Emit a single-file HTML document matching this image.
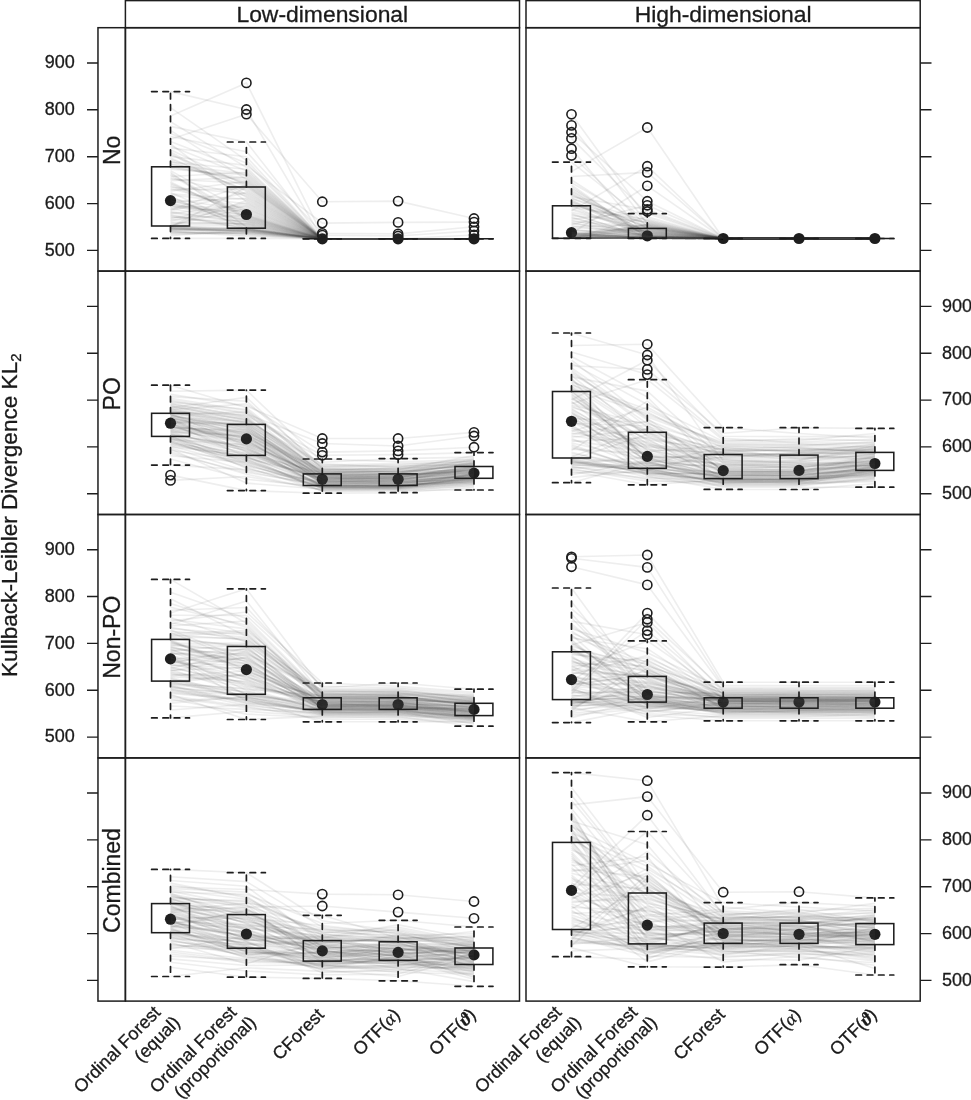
<!DOCTYPE html><html><head><meta charset="utf-8"><style>html,body{margin:0;padding:0;background:#fff;}svg{display:block;will-change:transform;}text{font-family:"Liberation Sans",sans-serif;fill:#1a1a1a;stroke:#1a1a1a;stroke-width:0.3px;}</style></head><body><svg width="971" height="1100" viewBox="0 0 971 1100"><rect width="971" height="1100" fill="#fff"/><circle cx="170.5" cy="200.6" r="5.6" fill="#1e1e1e"/><circle cx="246.4" cy="214.5" r="5.6" fill="#1e1e1e"/><circle cx="322.3" cy="238.8" r="5.6" fill="#1e1e1e"/><circle cx="398.1" cy="238.8" r="5.6" fill="#1e1e1e"/><circle cx="474" cy="238.8" r="5.6" fill="#1e1e1e"/><circle cx="571.5" cy="232.7" r="5.6" fill="#1e1e1e"/><circle cx="647.3" cy="235.8" r="5.6" fill="#1e1e1e"/><circle cx="723.2" cy="238.5" r="5.6" fill="#1e1e1e"/><circle cx="799" cy="238.5" r="5.6" fill="#1e1e1e"/><circle cx="874.9" cy="238.5" r="5.6" fill="#1e1e1e"/><circle cx="170.5" cy="423.2" r="5.6" fill="#1e1e1e"/><circle cx="246.4" cy="438.9" r="5.6" fill="#1e1e1e"/><circle cx="322.3" cy="479.3" r="5.6" fill="#1e1e1e"/><circle cx="398.1" cy="479.3" r="5.6" fill="#1e1e1e"/><circle cx="474" cy="473.1" r="5.6" fill="#1e1e1e"/><circle cx="571.5" cy="421.3" r="5.6" fill="#1e1e1e"/><circle cx="647.3" cy="456.4" r="5.6" fill="#1e1e1e"/><circle cx="723.2" cy="470.6" r="5.6" fill="#1e1e1e"/><circle cx="799" cy="470.4" r="5.6" fill="#1e1e1e"/><circle cx="874.9" cy="463.5" r="5.6" fill="#1e1e1e"/><circle cx="170.5" cy="658.9" r="5.6" fill="#1e1e1e"/><circle cx="246.4" cy="669.6" r="5.6" fill="#1e1e1e"/><circle cx="322.3" cy="704.5" r="5.6" fill="#1e1e1e"/><circle cx="398.1" cy="704.5" r="5.6" fill="#1e1e1e"/><circle cx="474" cy="709.4" r="5.6" fill="#1e1e1e"/><circle cx="571.5" cy="679.6" r="5.6" fill="#1e1e1e"/><circle cx="647.3" cy="694.5" r="5.6" fill="#1e1e1e"/><circle cx="723.2" cy="702" r="5.6" fill="#1e1e1e"/><circle cx="799" cy="702" r="5.6" fill="#1e1e1e"/><circle cx="874.9" cy="702" r="5.6" fill="#1e1e1e"/><circle cx="170.5" cy="919.2" r="5.6" fill="#1e1e1e"/><circle cx="246.4" cy="934" r="5.6" fill="#1e1e1e"/><circle cx="322.3" cy="950.9" r="5.6" fill="#1e1e1e"/><circle cx="398.1" cy="952.4" r="5.6" fill="#1e1e1e"/><circle cx="474" cy="954.9" r="5.6" fill="#1e1e1e"/><circle cx="571.5" cy="890.4" r="5.6" fill="#1e1e1e"/><circle cx="647.3" cy="925.1" r="5.6" fill="#1e1e1e"/><circle cx="723.2" cy="933.5" r="5.6" fill="#1e1e1e"/><circle cx="799" cy="934.3" r="5.6" fill="#1e1e1e"/><circle cx="874.9" cy="934.3" r="5.6" fill="#1e1e1e"/><g fill="none" stroke="#404040" stroke-opacity="0.09" stroke-width="1.6" stroke-linejoin="round"><path d="M170.5,188.6 L246.4,209.2 L322.3,238.8 L398.1,238.8 L474,238.8"/><path d="M170.5,170.6 L246.4,212.4 L322.3,238.8 L398.1,238.8 L474,238.8"/><path d="M170.5,207.7 L246.4,211.3 L322.3,238.8 L398.1,238.8 L474,238.8"/><path d="M170.5,227 L246.4,187.3 L322.3,238.8 L398.1,238.8 L474,238.8"/><path d="M170.5,214.6 L246.4,228.3 L322.3,238.8 L398.1,238.8 L474,238.8"/><path d="M170.5,227.7 L246.4,230.7 L322.3,238.8 L398.1,238.8 L474,238.8"/><path d="M170.5,187.3 L246.4,193.6 L322.3,238.8 L398.1,238.8 L474,238.8"/><path d="M170.5,126.4 L246.4,142 L322.3,238.8 L398.1,238.8 L474,238.8"/><path d="M170.5,219.8 L246.4,220.9 L322.3,238.8 L398.1,238.8 L474,238.8"/><path d="M170.5,224.2 L246.4,224.3 L322.3,238.8 L398.1,238.8 L474,238.8"/><path d="M170.5,164.9 L246.4,173.6 L322.3,238.8 L398.1,238.8 L474,238.8"/><path d="M170.5,166.2 L246.4,180.4 L322.3,238.8 L398.1,238.8 L474,238.8"/><path d="M170.5,182 L246.4,218.2 L322.3,238.8 L398.1,238.8 L474,238.8"/><path d="M170.5,227.2 L246.4,228.9 L322.3,238.8 L398.1,238.8 L474,238.8"/><path d="M170.5,193.7 L246.4,199.4 L322.3,238.8 L398.1,238.8 L474,238.8"/><path d="M170.5,151.6 L246.4,194.8 L322.3,238.8 L398.1,238.8 L474,238.8"/><path d="M170.5,230.6 L246.4,229.9 L322.3,238.8 L398.1,238.8 L474,238.8"/><path d="M170.5,215.6 L246.4,228.7 L322.3,238.8 L398.1,238.8 L474,238.8"/><path d="M170.5,233.4 L246.4,231.9 L322.3,238.8 L398.1,238.8 L474,238.8"/><path d="M170.5,229.4 L246.4,229.7 L322.3,238.8 L398.1,238.8 L474,238.8"/><path d="M170.5,232.7 L246.4,233.1 L322.3,238.8 L398.1,238.8 L474,238.8"/><path d="M170.5,205.8 L246.4,219.8 L322.3,238.8 L398.1,238.8 L474,238.8"/><path d="M170.5,229.1 L246.4,230.9 L322.3,238.8 L398.1,238.8 L474,238.8"/><path d="M170.5,172.1 L246.4,226.8 L322.3,238.8 L398.1,238.8 L474,238.8"/><path d="M170.5,175 L246.4,218.7 L322.3,238.8 L398.1,238.8 L474,238.8"/><path d="M170.5,202 L246.4,198.3 L322.3,238.8 L398.1,238.8 L474,238.8"/><path d="M170.5,238.4 L246.4,238.4 L322.3,238.8 L398.1,238.8 L474,238.8"/><path d="M170.5,220.9 L246.4,206 L322.3,238.8 L398.1,238.8 L474,238.8"/><path d="M170.5,196.2 L246.4,229.1 L322.3,238.8 L398.1,238.8 L474,238.8"/><path d="M170.5,179.2 L246.4,183.1 L322.3,238.8 L398.1,238.8 L474,238.8"/><path d="M170.5,231 L246.4,235.1 L322.3,238.8 L398.1,238.8 L474,238.8"/><path d="M170.5,218.7 L246.4,202.7 L322.3,238.8 L398.1,238.8 L474,238.8"/><path d="M170.5,227.4 L246.4,228.5 L322.3,238.8 L398.1,238.8 L474,238.8"/><path d="M170.5,226.7 L246.4,232.2 L322.3,238.8 L398.1,238.8 L474,238.8"/><path d="M170.5,139.2 L246.4,114.2 L322.3,201.7 L398.1,201.1 L474,218.5"/><path d="M170.5,226.5 L246.4,200.5 L322.3,238.8 L398.1,238.8 L474,238.8"/><path d="M170.5,194.9 L246.4,203.8 L322.3,238.8 L398.1,238.8 L474,238.8"/><path d="M170.5,146 L246.4,176.1 L322.3,238.8 L398.1,238.8 L474,238.8"/><path d="M170.5,223.1 L246.4,223.2 L322.3,238.8 L398.1,238.8 L474,238.8"/><path d="M170.5,200 L246.4,221.5 L322.3,238.8 L398.1,238.8 L474,238.8"/><path d="M170.5,180.6 L246.4,177.3 L322.3,238.8 L398.1,238.8 L474,238.8"/><path d="M170.5,185.9 L246.4,214.5 L322.3,238.8 L398.1,238.8 L474,238.8"/><path d="M170.5,228.8 L246.4,230.4 L322.3,238.8 L398.1,238.8 L474,238.8"/><path d="M170.5,183.3 L246.4,216.6 L322.3,238.8 L398.1,238.8 L474,238.8"/><path d="M170.5,121.8 L246.4,167.4 L322.3,238.8 L398.1,238.8 L474,238.8"/><path d="M170.5,231.5 L246.4,236.2 L322.3,238.8 L398.1,238.8 L474,238.8"/><path d="M170.5,148 L246.4,156.7 L322.3,238.8 L398.1,238.8 L474,238.8"/><path d="M170.5,177.9 L246.4,196 L322.3,238.8 L398.1,238.8 L474,238.8"/><path d="M170.5,225.4 L246.4,208.2 L322.3,238.8 L398.1,238.8 L474,238.8"/><path d="M170.5,91.6 L246.4,109.5 L322.3,238.8 L398.1,238.8 L474,238.8"/><path d="M170.5,149.8 L246.4,185.6 L322.3,238.8 L398.1,238.8 L474,238.8"/><path d="M170.5,228.5 L246.4,231.5 L322.3,238.8 L398.1,238.8 L474,238.8"/><path d="M170.5,184.6 L246.4,213.4 L322.3,238.8 L398.1,238.8 L474,238.8"/><path d="M170.5,163.6 L246.4,182.2 L322.3,238.8 L398.1,238.8 L474,238.8"/><path d="M170.5,203 L246.4,217.7 L322.3,238.8 L398.1,238.8 L474,238.8"/><path d="M170.5,154.9 L246.4,184 L322.3,238.8 L398.1,238.8 L474,238.8"/><path d="M170.5,197.5 L246.4,227.4 L322.3,238.8 L398.1,238.8 L474,238.8"/><path d="M170.5,158 L246.4,191.2 L322.3,238.8 L398.1,238.8 L474,238.8"/><path d="M170.5,116 L246.4,82.9 L322.3,235.1 L398.1,236 L474,230.9"/><path d="M170.5,226.1 L246.4,229.3 L322.3,238.8 L398.1,238.8 L474,238.8"/><path d="M170.5,173.6 L246.4,217.1 L322.3,238.8 L398.1,238.8 L474,238.8"/><path d="M170.5,217.7 L246.4,215.6 L322.3,238.8 L398.1,238.8 L474,238.8"/><path d="M170.5,176.5 L246.4,172.3 L322.3,238.8 L398.1,238.8 L474,238.8"/><path d="M170.5,228.2 L246.4,234.3 L322.3,238.8 L398.1,238.8 L474,238.8"/><path d="M170.5,222 L246.4,223.7 L322.3,238.8 L398.1,238.8 L474,238.8"/><path d="M170.5,203.9 L246.4,219.3 L322.3,238.8 L398.1,238.8 L474,238.8"/><path d="M170.5,143.9 L246.4,201.6 L322.3,238.8 L398.1,238.8 L474,238.8"/><path d="M170.5,136.5 L246.4,151.7 L322.3,233.3 L398.1,233.9 L474,226.8"/><path d="M170.5,230.1 L246.4,231.2 L322.3,238.8 L398.1,238.8 L474,238.8"/><path d="M170.5,226.3 L246.4,225.5 L322.3,238.8 L398.1,238.8 L474,238.8"/><path d="M170.5,160.9 L246.4,189.9 L322.3,238.8 L398.1,238.8 L474,238.8"/><path d="M170.5,234.4 L246.4,232.6 L322.3,238.8 L398.1,238.8 L474,238.8"/><path d="M170.5,216.6 L246.4,224.9 L322.3,238.8 L398.1,238.8 L474,238.8"/><path d="M170.5,198.7 L246.4,210.3 L322.3,238.8 L398.1,238.8 L474,238.8"/><path d="M170.5,130.3 L246.4,179.4 L322.3,238.8 L398.1,238.8 L474,238.8"/><path d="M170.5,153.3 L246.4,197.1 L322.3,238.8 L398.1,238.8 L474,238.8"/><path d="M170.5,209.7 L246.4,184.8 L322.3,238.8 L398.1,238.8 L474,238.8"/><path d="M170.5,211.6 L246.4,222 L322.3,238.8 L398.1,238.8 L474,238.8"/><path d="M170.5,206.8 L246.4,207.1 L322.3,238.8 L398.1,238.8 L474,238.8"/><path d="M170.5,107.6 L246.4,160.3 L322.3,238.8 L398.1,238.8 L474,238.8"/><path d="M170.5,212.6 L246.4,222.6 L322.3,238.8 L398.1,238.8 L474,238.8"/><path d="M170.5,208.7 L246.4,220.4 L322.3,238.8 L398.1,238.8 L474,238.8"/><path d="M170.5,167.6 L246.4,178.3 L322.3,238.8 L398.1,238.8 L474,238.8"/><path d="M170.5,201.1 L246.4,216.1 L322.3,238.8 L398.1,238.8 L474,238.8"/><path d="M170.5,204.9 L246.4,215 L322.3,238.8 L398.1,238.8 L474,238.8"/><path d="M170.5,228 L246.4,229.5 L322.3,238.8 L398.1,238.8 L474,238.8"/><path d="M170.5,191.1 L246.4,181.3 L322.3,238.8 L398.1,238.8 L474,238.8"/><path d="M170.5,213.6 L246.4,204.9 L322.3,238.8 L398.1,238.8 L474,238.8"/><path d="M170.5,133.6 L246.4,163 L322.3,238.8 L398.1,238.8 L474,238.8"/><path d="M170.5,159.5 L246.4,186.4 L322.3,238.8 L398.1,238.8 L474,238.8"/><path d="M170.5,192.4 L246.4,226.1 L322.3,238.8 L398.1,238.8 L474,238.8"/><path d="M170.5,156.5 L246.4,165.4 L322.3,223.1 L398.1,222.4 L474,222.1"/><path d="M170.5,210.6 L246.4,192.4 L322.3,238.8 L398.1,238.8 L474,238.8"/><path d="M170.5,141.6 L246.4,170.8 L322.3,238.8 L398.1,238.8 L474,235"/><path d="M170.5,189.8 L246.4,188.6 L322.3,238.8 L398.1,238.8 L474,238.8"/><path d="M170.5,162.3 L246.4,169.2 L322.3,238.8 L398.1,238.8 L474,238.8"/><path d="M170.5,229.8 L246.4,228 L322.3,238.8 L398.1,238.8 L474,238.8"/><path d="M170.5,169.1 L246.4,174.9 L322.3,238.8 L398.1,238.8 L474,238.8"/><path d="M170.5,232 L246.4,233.6 L322.3,238.8 L398.1,238.8 L474,238.8"/><path d="M170.5,235.8 L246.4,230.2 L322.3,238.8 L398.1,238.8 L474,238.8"/><path d="M571.5,234.4 L647.3,238.3 L723.2,238.5 L799,238.5 L874.9,238.5"/><path d="M571.5,238.3 L647.3,237.2 L723.2,238.5 L799,238.5 L874.9,238.5"/><path d="M571.5,238.3 L647.3,238 L723.2,238.5 L799,238.5 L874.9,238.5"/><path d="M571.5,138.4 L647.3,213.6 L723.2,238.5 L799,238.5 L874.9,238.5"/><path d="M571.5,185 L647.3,238.3 L723.2,238.5 L799,238.5 L874.9,238.5"/><path d="M571.5,235.8 L647.3,237.4 L723.2,238.5 L799,238.5 L874.9,238.5"/><path d="M571.5,238.3 L647.3,238.3 L723.2,238.5 L799,238.5 L874.9,238.5"/><path d="M571.5,238.3 L647.3,238.3 L723.2,238.5 L799,238.5 L874.9,238.5"/><path d="M571.5,235.5 L647.3,238.3 L723.2,238.5 L799,238.5 L874.9,238.5"/><path d="M571.5,220.3 L647.3,236.8 L723.2,238.5 L799,238.5 L874.9,238.5"/><path d="M571.5,226.8 L647.3,225 L723.2,238.5 L799,238.5 L874.9,238.5"/><path d="M571.5,227.9 L647.3,230.7 L723.2,238.5 L799,238.5 L874.9,238.5"/><path d="M571.5,238.3 L647.3,238.3 L723.2,238.5 L799,238.5 L874.9,238.5"/><path d="M571.5,225.8 L647.3,235.1 L723.2,238.5 L799,238.5 L874.9,238.5"/><path d="M571.5,221.4 L647.3,227.1 L723.2,238.5 L799,238.5 L874.9,238.5"/><path d="M571.5,148.7 L647.3,238.3 L723.2,238.5 L799,238.5 L874.9,238.5"/><path d="M571.5,114.3 L647.3,218.5 L723.2,238.5 L799,238.5 L874.9,238.5"/><path d="M571.5,231.1 L647.3,229.3 L723.2,238.5 L799,238.5 L874.9,238.5"/><path d="M571.5,238.3 L647.3,232.9 L723.2,238.5 L799,238.5 L874.9,238.5"/><path d="M571.5,224.7 L647.3,205.3 L723.2,238.5 L799,238.5 L874.9,238.5"/><path d="M571.5,237 L647.3,227.4 L723.2,238.5 L799,238.5 L874.9,238.5"/><path d="M571.5,238.3 L647.3,236.3 L723.2,238.5 L799,238.5 L874.9,238.5"/><path d="M571.5,223.6 L647.3,232 L723.2,238.5 L799,238.5 L874.9,238.5"/><path d="M571.5,238.3 L647.3,234.5 L723.2,238.5 L799,238.5 L874.9,238.5"/><path d="M571.5,190.4 L647.3,235.7 L723.2,238.5 L799,238.5 L874.9,238.5"/><path d="M571.5,230 L647.3,235.9 L723.2,238.5 L799,238.5 L874.9,238.5"/><path d="M571.5,205 L647.3,222.7 L723.2,238.5 L799,238.5 L874.9,238.5"/><path d="M571.5,233.3 L647.3,185.8 L723.2,238.5 L799,238.5 L874.9,238.5"/><path d="M571.5,238.3 L647.3,237.5 L723.2,238.5 L799,238.5 L874.9,238.5"/><path d="M571.5,238.3 L647.3,237.8 L723.2,238.5 L799,238.5 L874.9,238.5"/><path d="M571.5,233.5 L647.3,234.1 L723.2,238.5 L799,238.5 L874.9,238.5"/><path d="M571.5,236.5 L647.3,224.2 L723.2,238.5 L799,238.5 L874.9,238.5"/><path d="M571.5,208.4 L647.3,232.3 L723.2,238.5 L799,238.5 L874.9,238.5"/><path d="M571.5,219.2 L647.3,211.5 L723.2,238.5 L799,238.5 L874.9,238.5"/><path d="M571.5,238.3 L647.3,238.3 L723.2,238.5 L799,238.5 L874.9,238.5"/><path d="M571.5,218 L647.3,236.1 L723.2,238.5 L799,238.5 L874.9,238.5"/><path d="M571.5,238.3 L647.3,238.3 L723.2,238.5 L799,238.5 L874.9,238.5"/><path d="M571.5,237.2 L647.3,230.4 L723.2,238.5 L799,238.5 L874.9,238.5"/><path d="M571.5,234.6 L647.3,225.4 L723.2,238.5 L799,238.5 L874.9,238.5"/><path d="M571.5,238.3 L647.3,238.3 L723.2,238.5 L799,238.5 L874.9,238.5"/><path d="M571.5,216.9 L647.3,238.3 L723.2,238.5 L799,238.5 L874.9,238.5"/><path d="M571.5,212.2 L647.3,229 L723.2,238.5 L799,238.5 L874.9,238.5"/><path d="M571.5,233 L647.3,237.9 L723.2,238.5 L799,238.5 L874.9,238.5"/><path d="M571.5,236 L647.3,238.3 L723.2,238.5 L799,238.5 L874.9,238.5"/><path d="M571.5,235.3 L647.3,226.8 L723.2,238.5 L799,238.5 L874.9,238.5"/><path d="M571.5,238.3 L647.3,236.2 L723.2,238.5 L799,238.5 L874.9,238.5"/><path d="M571.5,234.1 L647.3,231.3 L723.2,238.5 L799,238.5 L874.9,238.5"/><path d="M571.5,236.7 L647.3,238.3 L723.2,238.5 L799,238.5 L874.9,238.5"/><path d="M571.5,215.7 L647.3,221.4 L723.2,238.5 L799,238.5 L874.9,238.5"/><path d="M571.5,238.3 L647.3,238.3 L723.2,238.5 L799,238.5 L874.9,238.5"/><path d="M571.5,207.1 L647.3,219.7 L723.2,238.5 L799,238.5 L874.9,238.5"/><path d="M571.5,213.4 L647.3,238.1 L723.2,238.5 L799,238.5 L874.9,238.5"/><path d="M571.5,232.2 L647.3,238.3 L723.2,238.5 L799,238.5 L874.9,238.5"/><path d="M571.5,236.2 L647.3,236 L723.2,238.5 L799,238.5 L874.9,238.5"/><path d="M571.5,193.2 L647.3,236.5 L723.2,238.5 L799,238.5 L874.9,238.5"/><path d="M571.5,238.3 L647.3,237.3 L723.2,238.5 L799,238.5 L874.9,238.5"/><path d="M571.5,195.6 L647.3,228 L723.2,238.5 L799,238.5 L874.9,238.5"/><path d="M571.5,205.8 L647.3,237.6 L723.2,238.5 L799,238.5 L874.9,238.5"/><path d="M571.5,203.4 L647.3,231.7 L723.2,238.5 L799,238.5 L874.9,238.5"/><path d="M571.5,200.7 L647.3,234.8 L723.2,238.5 L799,238.5 L874.9,238.5"/><path d="M571.5,237.8 L647.3,229.7 L723.2,238.5 L799,238.5 L874.9,238.5"/><path d="M571.5,233.9 L647.3,238.2 L723.2,238.5 L799,238.5 L874.9,238.5"/><path d="M571.5,188.8 L647.3,233.8 L723.2,238.5 L799,238.5 L874.9,238.5"/><path d="M571.5,196.7 L647.3,209.5 L723.2,238.5 L799,238.5 L874.9,238.5"/><path d="M571.5,210.9 L647.3,166.2 L723.2,238.5 L799,238.5 L874.9,238.5"/><path d="M571.5,238.3 L647.3,224.6 L723.2,238.5 L799,238.5 L874.9,238.5"/><path d="M571.5,194.4 L647.3,228.6 L723.2,238.5 L799,238.5 L874.9,238.5"/><path d="M571.5,162.1 L647.3,222.1 L723.2,238.5 L799,238.5 L874.9,238.5"/><path d="M571.5,176.5 L647.3,172.4 L723.2,238.5 L799,238.5 L874.9,238.5"/><path d="M571.5,209.7 L647.3,233.5 L723.2,238.5 L799,238.5 L874.9,238.5"/><path d="M571.5,238.3 L647.3,238.3 L723.2,238.5 L799,238.5 L874.9,238.5"/><path d="M571.5,182.8 L647.3,225.8 L723.2,238.5 L799,238.5 L874.9,238.5"/><path d="M571.5,232.8 L647.3,230 L723.2,238.5 L799,238.5 L874.9,238.5"/><path d="M571.5,238.3 L647.3,238.3 L723.2,238.5 L799,238.5 L874.9,238.5"/><path d="M571.5,201.6 L647.3,238.3 L723.2,238.5 L799,238.5 L874.9,238.5"/><path d="M571.5,238.3 L647.3,238.3 L723.2,238.5 L799,238.5 L874.9,238.5"/><path d="M571.5,238.3 L647.3,236.6 L723.2,238.5 L799,238.5 L874.9,238.5"/><path d="M571.5,237.5 L647.3,238.3 L723.2,238.5 L799,238.5 L874.9,238.5"/><path d="M571.5,155.5 L647.3,226.5 L723.2,238.5 L799,238.5 L874.9,238.5"/><path d="M571.5,235.1 L647.3,235.4 L723.2,238.5 L799,238.5 L874.9,238.5"/><path d="M571.5,204.2 L647.3,226.1 L723.2,238.5 L799,238.5 L874.9,238.5"/><path d="M571.5,125.4 L647.3,223.7 L723.2,238.5 L799,238.5 L874.9,238.5"/><path d="M571.5,132.2 L647.3,201.2 L723.2,238.5 L799,238.5 L874.9,238.5"/><path d="M571.5,229 L647.3,238.3 L723.2,238.5 L799,238.5 L874.9,238.5"/><path d="M571.5,233.7 L647.3,237.1 L723.2,238.5 L799,238.5 L874.9,238.5"/><path d="M571.5,238.3 L647.3,238.3 L723.2,238.5 L799,238.5 L874.9,238.5"/><path d="M571.5,238 L647.3,227.7 L723.2,238.5 L799,238.5 L874.9,238.5"/><path d="M571.5,197.8 L647.3,231 L723.2,238.5 L799,238.5 L874.9,238.5"/><path d="M571.5,199.8 L647.3,236.9 L723.2,238.5 L799,238.5 L874.9,238.5"/><path d="M571.5,214.5 L647.3,236.4 L723.2,238.5 L799,238.5 L874.9,238.5"/><path d="M571.5,180 L647.3,228.3 L723.2,238.5 L799,238.5 L874.9,238.5"/><path d="M571.5,238.3 L647.3,232.6 L723.2,238.5 L799,238.5 L874.9,238.5"/><path d="M571.5,222.5 L647.3,238.3 L723.2,238.5 L799,238.5 L874.9,238.5"/><path d="M571.5,187 L647.3,237 L723.2,238.5 L799,238.5 L874.9,238.5"/><path d="M571.5,191.8 L647.3,233.2 L723.2,238.5 L799,238.5 L874.9,238.5"/><path d="M571.5,171.6 L647.3,127.5 L723.2,238.5 L799,238.5 L874.9,238.5"/><path d="M571.5,198.8 L647.3,220.6 L723.2,238.5 L799,238.5 L874.9,238.5"/><path d="M571.5,234.8 L647.3,236.7 L723.2,238.5 L799,238.5 L874.9,238.5"/><path d="M571.5,202.5 L647.3,223.2 L723.2,238.5 L799,238.5 L874.9,238.5"/><path d="M571.5,238.3 L647.3,216.8 L723.2,238.5 L799,238.5 L874.9,238.5"/><path d="M170.5,416.4 L246.4,427.3 L322.3,481.4 L398.1,481.1 L474,476.8"/><path d="M170.5,415.1 L246.4,411.8 L322.3,467.4 L398.1,466.6 L474,462"/><path d="M170.5,430.1 L246.4,437 L322.3,481.1 L398.1,481.9 L474,479.8"/><path d="M170.5,396.6 L246.4,401.2 L322.3,466 L398.1,465.8 L474,464.4"/><path d="M170.5,416 L246.4,430.3 L322.3,483.9 L398.1,482.9 L474,475.3"/><path d="M170.5,399.7 L246.4,412.9 L322.3,473.8 L398.1,475.3 L474,471.1"/><path d="M170.5,408.4 L246.4,422.9 L322.3,474 L398.1,473.5 L474,467.5"/><path d="M170.5,431.7 L246.4,454.3 L322.3,480.1 L398.1,481.4 L474,475.1"/><path d="M170.5,429 L246.4,436.5 L322.3,474.5 L398.1,474 L474,462.4"/><path d="M170.5,414.7 L246.4,430.9 L322.3,476.6 L398.1,477.1 L474,466.6"/><path d="M170.5,420.7 L246.4,438.6 L322.3,479.9 L398.1,479.7 L474,473.3"/><path d="M170.5,421.1 L246.4,446.7 L322.3,485.7 L398.1,484.5 L474,473.9"/><path d="M170.5,426.5 L246.4,442.3 L322.3,478.4 L398.1,480.1 L474,476"/><path d="M170.5,451.7 L246.4,474.3 L322.3,490.1 L398.1,489.3 L474,483.4"/><path d="M170.5,424 L246.4,442.9 L322.3,477.3 L398.1,478.4 L474,470"/><path d="M170.5,465.1 L246.4,469.6 L322.3,481.9 L398.1,480.9 L474,476.6"/><path d="M170.5,415.5 L246.4,426.7 L322.3,475.3 L398.1,475.7 L474,469.5"/><path d="M170.5,435.2 L246.4,445.4 L322.3,487.1 L398.1,488.6 L474,483.9"/><path d="M170.5,434.6 L246.4,447.3 L322.3,485.8 L398.1,486.2 L474,478.7"/><path d="M170.5,423.5 L246.4,439.8 L322.3,486.1 L398.1,485.6 L474,474.1"/><path d="M170.5,417.6 L246.4,433.2 L322.3,482.4 L398.1,479.9 L474,475.7"/><path d="M170.5,445.9 L246.4,466.1 L322.3,482.9 L398.1,482.6 L474,474.9"/><path d="M170.5,450.2 L246.4,461.7 L322.3,486.4 L398.1,485.7 L474,480.6"/><path d="M170.5,440.7 L246.4,467.2 L322.3,490.7 L398.1,490.3 L474,490"/><path d="M170.5,455.7 L246.4,462.5 L322.3,484.2 L398.1,483.4 L474,478.5"/><path d="M170.5,439 L246.4,455 L322.3,479.4 L398.1,477.7 L474,466.9"/><path d="M170.5,403.1 L246.4,416.7 L322.3,473.2 L398.1,472.9 L474,459.1"/><path d="M170.5,440.1 L246.4,459.5 L322.3,488.3 L398.1,488.1 L474,480.8"/><path d="M170.5,412.8 L246.4,429.1 L322.3,477.9 L398.1,479 L474,474.7"/><path d="M170.5,444.2 L246.4,460.2 L322.3,485.6 L398.1,484.2 L474,475.5"/><path d="M170.5,417.2 L246.4,437.6 L322.3,476.2 L398.1,473.2 L474,468.7"/><path d="M170.5,427.5 L246.4,431.5 L322.3,472.7 L398.1,470.2 L474,462.8"/><path d="M170.5,422.3 L246.4,444.2 L322.3,476 L398.1,475 L474,468.4"/><path d="M170.5,413.8 L246.4,446.1 L322.3,476.4 L398.1,476.4 L474,469.2"/><path d="M170.5,401 L246.4,414 L322.3,443.5 L398.1,446 L474,436"/><path d="M170.5,418.8 L246.4,451.4 L322.3,480.4 L398.1,478.6 L474,473.5"/><path d="M170.5,420 L246.4,434.8 L322.3,484.5 L398.1,485.8 L474,479.5"/><path d="M170.5,439.6 L246.4,444.8 L322.3,482.1 L398.1,482.1 L474,479.3"/><path d="M170.5,413.3 L246.4,422.3 L322.3,472.1 L398.1,471 L474,466.1"/><path d="M170.5,425 L246.4,452.1 L322.3,486 L398.1,485.1 L474,481.1"/><path d="M170.5,411.3 L246.4,427.9 L322.3,472.4 L398.1,470.6 L474,465"/><path d="M170.5,421.9 L246.4,423.5 L322.3,474.8 L398.1,474.8 L474,470.8"/><path d="M170.5,402.1 L246.4,409.3 L322.3,469.5 L398.1,472 L474,464.1"/><path d="M170.5,453.5 L246.4,472.5 L322.3,484.8 L398.1,486.1 L474,477.1"/><path d="M170.5,427 L246.4,432.6 L322.3,474.3 L398.1,474.3 L474,472.1"/><path d="M170.5,409.6 L246.4,403.9 L322.3,452.1 L398.1,450.9 L474,447.2"/><path d="M170.5,428 L246.4,429.7 L322.3,473.5 L398.1,474.5 L474,470.5"/><path d="M170.5,436.4 L246.4,450 L322.3,478.1 L398.1,479.2 L474,471.8"/><path d="M170.5,425.5 L246.4,438.1 L322.3,477.1 L398.1,478.1 L474,467.8"/><path d="M170.5,445 L246.4,456.3 L322.3,491.5 L398.1,491.1 L474,485.3"/><path d="M170.5,420.4 L246.4,439.2 L322.3,482.6 L398.1,483.9 L474,477.8"/><path d="M170.5,385.2 L246.4,407.7 L322.3,468 L398.1,469.4 L474,460.4"/><path d="M170.5,406.4 L246.4,418.3 L322.3,475.5 L398.1,476 L474,472.8"/><path d="M170.5,442 L246.4,465.1 L322.3,486.8 L398.1,486.4 L474,476.2"/><path d="M170.5,437.4 L246.4,452.8 L322.3,479.2 L398.1,477.5 L474,472.3"/><path d="M170.5,429.6 L246.4,443.5 L322.3,483.1 L398.1,484.8 L474,482.9"/><path d="M170.5,407.8 L246.4,397.4 L322.3,468.6 L398.1,469.8 L474,455.6"/><path d="M170.5,436.9 L246.4,458.2 L322.3,476.9 L398.1,477.3 L474,465.6"/><path d="M170.5,432.8 L246.4,450.7 L322.3,485.4 L398.1,485.4 L474,480"/><path d="M170.5,409.1 L246.4,424.1 L322.3,478.6 L398.1,478.8 L474,472.6"/><path d="M170.5,410.8 L246.4,419 L322.3,469.9 L398.1,467.9 L474,463.1"/><path d="M170.5,428.5 L246.4,434.3 L322.3,475.7 L398.1,476.6 L474,469.7"/><path d="M170.5,442.7 L246.4,460.9 L322.3,488.8 L398.1,488.9 L474,484.5"/><path d="M170.5,447.8 L246.4,470.9 L322.3,486.6 L398.1,487.4 L474,481.8"/><path d="M170.5,433.4 L246.4,463.3 L322.3,488.5 L398.1,487.8 L474,480.3"/><path d="M170.5,475.1 L246.4,490.6 L322.3,493.2 L398.1,492.7 L474,487.5"/><path d="M170.5,412.3 L246.4,421.1 L322.3,471.4 L398.1,473.8 L474,463.5"/><path d="M170.5,430.6 L246.4,448.7 L322.3,479 L398.1,479.4 L474,473.1"/><path d="M170.5,414.2 L246.4,435.9 L322.3,481.6 L398.1,480.4 L474,468.9"/><path d="M170.5,398.3 L246.4,410.6 L322.3,465.1 L398.1,463.6 L474,461.5"/><path d="M170.5,404.9 L246.4,417.5 L322.3,471.8 L398.1,472.6 L474,464.7"/><path d="M170.5,443.4 L246.4,453.5 L322.3,473 L398.1,471.4 L474,470.3"/><path d="M170.5,410.2 L246.4,426 L322.3,477.7 L398.1,477.9 L474,473.7"/><path d="M170.5,405.7 L246.4,420.4 L322.3,463.9 L398.1,467.3 L474,458.2"/><path d="M170.5,435.8 L246.4,468.3 L322.3,487.8 L398.1,487.6 L474,482.1"/><path d="M170.5,438.4 L246.4,464.2 L322.3,487.3 L398.1,487.2 L474,479.1"/><path d="M170.5,422.6 L246.4,424.7 L322.3,471.1 L398.1,472.3 L474,465.3"/><path d="M170.5,449 L246.4,483.1 L322.3,489.2 L398.1,489.8 L474,486.2"/><path d="M170.5,404 L246.4,415.8 L322.3,459 L398.1,461.9 L474,459.8"/><path d="M170.5,480.4 L246.4,476.5 L322.3,489.6 L398.1,488.3 L474,482.5"/><path d="M170.5,441.4 L246.4,458.8 L322.3,488 L398.1,486.5 L474,481.4"/><path d="M170.5,426 L246.4,449.3 L322.3,485.1 L398.1,486.7 L474,478"/><path d="M170.5,424.5 L246.4,441 L322.3,477.5 L398.1,475.5 L474,467.2"/><path d="M170.5,419.2 L246.4,433.7 L322.3,475 L398.1,476.9 L474,471.3"/><path d="M170.5,418 L246.4,432.1 L322.3,470.3 L398.1,468.9 L474,465.8"/><path d="M170.5,423 L246.4,456.9 L322.3,483.7 L398.1,482.4 L474,474.3"/><path d="M170.5,407.1 L246.4,419.7 L322.3,466.8 L398.1,464.8 L474,461"/><path d="M170.5,458.9 L246.4,479.2 L322.3,487 L398.1,486.9 L474,477.3"/><path d="M170.5,421.5 L246.4,441.7 L322.3,479.7 L398.1,480.6 L474,468.1"/><path d="M170.5,434 L246.4,448 L322.3,487.5 L398.1,487 L474,478.2"/><path d="M170.5,419.6 L246.4,428.5 L322.3,480.9 L398.1,481.6 L474,474.5"/><path d="M170.5,418.4 L246.4,425.4 L322.3,480.6 L398.1,483.7 L474,476.4"/><path d="M170.5,437.9 L246.4,457.5 L322.3,478.8 L398.1,476.2 L474,471.6"/><path d="M170.5,431.2 L246.4,440.4 L322.3,483.4 L398.1,483.1 L474,477.5"/><path d="M170.5,411.8 L246.4,414.9 L322.3,455.3 L398.1,454.6 L474,452.6"/><path d="M170.5,416.8 L246.4,421.7 L322.3,469.1 L398.1,471.7 L474,466.3"/><path d="M170.5,432.3 L246.4,435.4 L322.3,470.7 L398.1,468.4 L474,463.8"/><path d="M170.5,394.4 L246.4,406 L322.3,438.5 L398.1,438.5 L474,432.4"/><path d="M170.5,391.2 L246.4,390.1 L322.3,462.2 L398.1,458.6 L474,457.1"/><path d="M170.5,446.8 L246.4,455.7 L322.3,486.3 L398.1,486 L474,478.9"/><path d="M571.5,466.3 L647.3,479.4 L723.2,485.9 L799,486 L874.9,478.6"/><path d="M571.5,368 L647.3,419.9 L723.2,450.3 L799,450.2 L874.9,449.6"/><path d="M571.5,406.1 L647.3,438.7 L723.2,480.8 L799,481.9 L874.9,476"/><path d="M571.5,363.1 L647.3,404.5 L723.2,441.4 L799,438.7 L874.9,440.7"/><path d="M571.5,391 L647.3,458.7 L723.2,474.7 L799,476.6 L874.9,467"/><path d="M571.5,376.9 L647.3,391.1 L723.2,459.1 L799,458.2 L874.9,458.7"/><path d="M571.5,444.5 L647.3,471.8 L723.2,475.3 L799,475.2 L874.9,468.4"/><path d="M571.5,398.8 L647.3,439.8 L723.2,449.7 L799,446.8 L874.9,447.6"/><path d="M571.5,345.5 L647.3,344.3 L723.2,427.6 L799,433.5 L874.9,438"/><path d="M571.5,467.1 L647.3,474.2 L723.2,472.2 L799,471.2 L874.9,464.4"/><path d="M571.5,385.8 L647.3,435.5 L723.2,462.4 L799,464.9 L874.9,461.2"/><path d="M571.5,365.7 L647.3,369.4 L723.2,433.3 L799,427.7 L874.9,428.4"/><path d="M571.5,409.5 L647.3,449.8 L723.2,452.4 L799,454.9 L874.9,446.4"/><path d="M571.5,392.2 L647.3,440.8 L723.2,466.7 L799,467.3 L874.9,459.5"/><path d="M571.5,381 L647.3,415.3 L723.2,442.6 L799,441.8 L874.9,439.5"/><path d="M571.5,459.5 L647.3,434.3 L723.2,460.4 L799,460.1 L874.9,445.8"/><path d="M571.5,411.8 L647.3,475.4 L723.2,478.7 L799,479.3 L874.9,470.2"/><path d="M571.5,461.4 L647.3,472.6 L723.2,482.9 L799,480.8 L874.9,474.2"/><path d="M571.5,460.4 L647.3,473.1 L723.2,480.5 L799,479.9 L874.9,471.1"/><path d="M571.5,459.1 L647.3,473.6 L723.2,473.8 L799,474.3 L874.9,466.5"/><path d="M571.5,438.6 L647.3,468.7 L723.2,482.2 L799,481.6 L874.9,469.3"/><path d="M571.5,417.4 L647.3,460.2 L723.2,468.5 L799,470.6 L874.9,463.9"/><path d="M571.5,407.2 L647.3,430.2 L723.2,455.6 L799,452.4 L874.9,444.4"/><path d="M571.5,470 L647.3,478.1 L723.2,479.1 L799,478.4 L874.9,473.4"/><path d="M571.5,356.5 L647.3,397 L723.2,473.1 L799,473.6 L874.9,464.9"/><path d="M571.5,384.7 L647.3,411.7 L723.2,452.9 L799,456.2 L874.9,458.3"/><path d="M571.5,397.5 L647.3,450.7 L723.2,461.7 L799,460.7 L874.9,448.1"/><path d="M571.5,449.1 L647.3,453.6 L723.2,475 L799,475.6 L874.9,467.6"/><path d="M571.5,431.6 L647.3,407.2 L723.2,448.4 L799,451.4 L874.9,450.5"/><path d="M571.5,404.9 L647.3,424.9 L723.2,480.3 L799,479.5 L874.9,467.9"/><path d="M571.5,408.4 L647.3,456.4 L723.2,464.2 L799,468.4 L874.9,456"/><path d="M571.5,472.8 L647.3,472.2 L723.2,481 L799,483 L874.9,479.4"/><path d="M571.5,393.6 L647.3,455.5 L723.2,459.8 L799,463.2 L874.9,459.1"/><path d="M571.5,333 L647.3,355 L723.2,461.1 L799,462.6 L874.9,463.3"/><path d="M571.5,474.7 L647.3,460.6 L723.2,467.9 L799,467.8 L874.9,460.8"/><path d="M571.5,386.9 L647.3,447.8 L723.2,471 L799,472.4 L874.9,465.4"/><path d="M571.5,414.1 L647.3,445.9 L723.2,458.4 L799,455.5 L874.9,454.2"/><path d="M571.5,434.4 L647.3,421.2 L723.2,470.3 L799,469 L874.9,465.2"/><path d="M571.5,379.7 L647.3,431.1 L723.2,469.7 L799,469.5 L874.9,464.7"/><path d="M571.5,465.5 L647.3,463.6 L723.2,447.8 L799,451.9 L874.9,454.6"/><path d="M571.5,416.3 L647.3,465.1 L723.2,479.4 L799,481.1 L874.9,472"/><path d="M571.5,375.3 L647.3,436.6 L723.2,471.6 L799,470.9 L874.9,457.4"/><path d="M571.5,443 L647.3,459.7 L723.2,474.4 L799,476.3 L874.9,475.5"/><path d="M571.5,450.6 L647.3,401.2 L723.2,463 L799,461.4 L874.9,457.8"/><path d="M571.5,419.6 L647.3,456.9 L723.2,457.7 L799,453.4 L874.9,453.2"/><path d="M571.5,453.8 L647.3,466.2 L723.2,457 L799,452.9 L874.9,449.1"/><path d="M571.5,370 L647.3,427.1 L723.2,469.1 L799,466.1 L874.9,462.9"/><path d="M571.5,462.4 L647.3,467.9 L723.2,483.8 L799,483.9 L874.9,480.5"/><path d="M571.5,389 L647.3,413.6 L723.2,443.7 L799,444.1 L874.9,447"/><path d="M571.5,467.9 L647.3,465.7 L723.2,464.9 L799,462 L874.9,453.7"/><path d="M571.5,400 L647.3,360.2 L723.2,436.3 L799,436.6 L874.9,436.2"/><path d="M571.5,433 L647.3,444.9 L723.2,451.9 L799,448.9 L874.9,448.6"/><path d="M571.5,482.7 L647.3,461.6 L723.2,478.9 L799,479.7 L874.9,470.5"/><path d="M571.5,428.8 L647.3,442.9 L723.2,467.3 L799,465.5 L874.9,460.4"/><path d="M571.5,463.6 L647.3,457.3 L723.2,480.1 L799,478.7 L874.9,476.6"/><path d="M571.5,455.5 L647.3,474.8 L723.2,485.1 L799,485.1 L874.9,477.8"/><path d="M571.5,373.7 L647.3,417 L723.2,444.6 L799,445 L874.9,443.6"/><path d="M571.5,464.2 L647.3,469.6 L723.2,479.3 L799,478.9 L874.9,471.7"/><path d="M571.5,463 L647.3,470.6 L723.2,451.4 L799,450.8 L874.9,445.1"/><path d="M571.5,378.3 L647.3,464.6 L723.2,474.1 L799,473.3 L874.9,461.6"/><path d="M571.5,418.5 L647.3,422.5 L723.2,466.1 L799,463.8 L874.9,462.1"/><path d="M571.5,371.9 L647.3,423.7 L723.2,447.1 L799,448.2 L874.9,451.8"/><path d="M571.5,415.2 L647.3,451.7 L723.2,445.5 L799,445.9 L874.9,441.8"/><path d="M571.5,461.9 L647.3,469 L723.2,471.9 L799,471.8 L874.9,460"/><path d="M571.5,430.2 L647.3,454.5 L723.2,478.4 L799,477.3 L874.9,472.4"/><path d="M571.5,382.3 L647.3,409.6 L723.2,446.3 L799,447.5 L874.9,452.7"/><path d="M571.5,388 L647.3,458.3 L723.2,454.9 L799,457.5 L874.9,455.6"/><path d="M571.5,427.5 L647.3,466.7 L723.2,477.7 L799,474.9 L874.9,468.1"/><path d="M571.5,422 L647.3,441.9 L723.2,472.5 L799,472.7 L874.9,469.9"/><path d="M571.5,435.8 L647.3,446.9 L723.2,454.3 L799,459.5 L874.9,455.1"/><path d="M571.5,458.6 L647.3,464.1 L723.2,473.5 L799,474 L874.9,470.8"/><path d="M571.5,360.1 L647.3,418.5 L723.2,470.7 L799,470.1 L874.9,466.8"/><path d="M571.5,426.1 L647.3,462.1 L723.2,476 L799,473 L874.9,463.6"/><path d="M571.5,464.8 L647.3,469.9 L723.2,479.9 L799,480.1 L874.9,474.6"/><path d="M571.5,457.1 L647.3,428.2 L723.2,456.3 L799,453.9 L874.9,452.2"/><path d="M571.5,396.2 L647.3,457.8 L723.2,471.3 L799,472.1 L874.9,462.5"/><path d="M571.5,403.7 L647.3,379.7 L723.2,440.1 L799,440.4 L874.9,433.5"/><path d="M571.5,437.2 L647.3,429.2 L723.2,450.8 L799,449.6 L874.9,450.1"/><path d="M571.5,459.9 L647.3,469.3 L723.2,483.4 L799,482.2 L874.9,475"/><path d="M571.5,423.3 L647.3,426 L723.2,453.8 L799,456.8 L874.9,456.9"/><path d="M571.5,471.3 L647.3,484.8 L723.2,479.7 L799,479.1 L874.9,465.7"/><path d="M571.5,468.9 L647.3,481.2 L723.2,481.6 L799,481.3 L874.9,472.7"/><path d="M571.5,390 L647.3,459.2 L723.2,463.6 L799,466.7 L874.9,464.1"/><path d="M571.5,458.2 L647.3,462.6 L723.2,477.3 L799,477.7 L874.9,469"/><path d="M571.5,412.9 L647.3,448.8 L723.2,475.7 L799,475.9 L874.9,466.2"/><path d="M571.5,383.5 L647.3,433.2 L723.2,449.1 L799,458.8 L874.9,451.4"/><path d="M571.5,402.5 L647.3,432.1 L723.2,472.8 L799,471.5 L874.9,456.5"/><path d="M571.5,424.7 L647.3,476.2 L723.2,489.4 L799,489.5 L874.9,483.6"/><path d="M571.5,351.9 L647.3,374.6 L723.2,438.4 L799,443 L874.9,442.7"/><path d="M571.5,401.3 L647.3,463.1 L723.2,478 L799,480.3 L874.9,473.8"/><path d="M571.5,447.5 L647.3,468.4 L723.2,476.3 L799,474.6 L874.9,471.4"/><path d="M571.5,394.9 L647.3,443.9 L723.2,477 L799,477 L874.9,467.3"/><path d="M571.5,410.7 L647.3,461.1 L723.2,481.3 L799,480.6 L874.9,473"/><path d="M571.5,460.9 L647.3,477 L723.2,484.4 L799,484.5 L874.9,469.6"/><path d="M571.5,420.7 L647.3,467.3 L723.2,476.6 L799,478 L874.9,468.7"/><path d="M571.5,440.1 L647.3,452.6 L723.2,465.5 L799,464.4 L874.9,466"/><path d="M571.5,477.4 L647.3,470.3 L723.2,487.1 L799,487.2 L874.9,487.2"/><path d="M571.5,441.5 L647.3,437.7 L723.2,453.4 L799,454.4 L874.9,451"/><path d="M571.5,446 L647.3,471.4 L723.2,482.6 L799,483.4 L874.9,481.8"/><path d="M571.5,452.2 L647.3,471 L723.2,481.9 L799,482.6 L874.9,477.2"/><path d="M170.5,668.5 L246.4,651.1 L322.3,707.8 L398.1,707.2 L474,715.2"/><path d="M170.5,648.1 L246.4,655.9 L322.3,708.2 L398.1,709.3 L474,712.6"/><path d="M170.5,661.8 L246.4,655 L322.3,700 L398.1,698.3 L474,704.8"/><path d="M170.5,683.3 L246.4,689.3 L322.3,695.5 L398.1,695.5 L474,700.8"/><path d="M170.5,637.9 L246.4,647 L322.3,704.6 L398.1,705 L474,711.6"/><path d="M170.5,672.9 L246.4,684.2 L322.3,702.1 L398.1,702.6 L474,706.8"/><path d="M170.5,672 L246.4,682.2 L322.3,705.3 L398.1,705.3 L474,713.3"/><path d="M170.5,695.9 L246.4,706.5 L322.3,719.2 L398.1,719.2 L474,722.8"/><path d="M170.5,682.7 L246.4,674.7 L322.3,706.1 L398.1,705.1 L474,709.3"/><path d="M170.5,639.9 L246.4,670.1 L322.3,705 L398.1,704.6 L474,709.7"/><path d="M170.5,700.9 L246.4,697.2 L322.3,712.2 L398.1,713.5 L474,719.5"/><path d="M170.5,659.3 L246.4,653.1 L322.3,693.3 L398.1,695.8 L474,705.3"/><path d="M170.5,638.9 L246.4,646 L322.3,708.4 L398.1,708.8 L474,713.8"/><path d="M170.5,669.4 L246.4,693.7 L322.3,706.2 L398.1,708 L474,712.3"/><path d="M170.5,650.4 L246.4,666.6 L322.3,701.1 L398.1,700.5 L474,707"/><path d="M170.5,687.7 L246.4,694.5 L322.3,710.8 L398.1,710.1 L474,717.1"/><path d="M170.5,625.9 L246.4,621 L322.3,695.1 L398.1,694.5 L474,699"/><path d="M170.5,628.6 L246.4,634.9 L322.3,693.7 L398.1,693.7 L474,694.9"/><path d="M170.5,651.2 L246.4,644 L322.3,698.3 L398.1,699.4 L474,705.5"/><path d="M170.5,706 L246.4,709.4 L322.3,712.8 L398.1,712.8 L474,717.5"/><path d="M170.5,686.9 L246.4,695.4 L322.3,705.5 L398.1,705.9 L474,710.2"/><path d="M170.5,632.4 L246.4,662.2 L322.3,711.4 L398.1,711.6 L474,723.9"/><path d="M170.5,615.3 L246.4,615.5 L322.3,686.2 L398.1,687.8 L474,693.8"/><path d="M170.5,649.7 L246.4,654.1 L322.3,689.9 L398.1,689.9 L474,698.6"/><path d="M170.5,627.3 L246.4,640.9 L322.3,694.5 L398.1,694.1 L474,696.5"/><path d="M170.5,675.7 L246.4,671 L322.3,699.1 L398.1,698 L474,704.5"/><path d="M170.5,662.6 L246.4,665.7 L322.3,709.3 L398.1,709.7 L474,716.4"/><path d="M170.5,657.1 L246.4,701.3 L322.3,711.1 L398.1,711.1 L474,717.3"/><path d="M170.5,645.8 L246.4,650.1 L322.3,705.1 L398.1,704.8 L474,710"/><path d="M170.5,699 L246.4,714.1 L322.3,717.8 L398.1,716.8 L474,726.2"/><path d="M170.5,633.6 L246.4,630.5 L322.3,691.3 L398.1,690.6 L474,697.6"/><path d="M170.5,624.4 L246.4,601.1 L322.3,694.8 L398.1,693.3 L474,701.9"/><path d="M170.5,688.5 L246.4,702.7 L322.3,711.6 L398.1,711.9 L474,718"/><path d="M170.5,693.4 L246.4,700 L322.3,721.8 L398.1,721.8 L474,721.9"/><path d="M170.5,647.4 L246.4,661.4 L322.3,703.1 L398.1,701.1 L474,701.7"/><path d="M170.5,676.6 L246.4,681.3 L322.3,705.9 L398.1,706.1 L474,709.5"/><path d="M170.5,717.9 L246.4,711.3 L322.3,716.8 L398.1,717.8 L474,721.3"/><path d="M170.5,635.8 L246.4,632.1 L322.3,698.6 L398.1,697.2 L474,700.5"/><path d="M170.5,651.9 L246.4,677.5 L322.3,696.6 L398.1,695.1 L474,699.8"/><path d="M170.5,671.1 L246.4,656.9 L322.3,707.6 L398.1,707.6 L474,708.1"/><path d="M170.5,579.4 L246.4,623.3 L322.3,699.4 L398.1,700 L474,702.7"/><path d="M170.5,652.7 L246.4,658.7 L322.3,705.7 L398.1,703.4 L474,708.8"/><path d="M170.5,681.4 L246.4,673.7 L322.3,698.9 L398.1,698.6 L474,703.4"/><path d="M170.5,654.2 L246.4,649.1 L322.3,692.8 L398.1,691.8 L474,698.1"/><path d="M170.5,686.1 L246.4,703.5 L322.3,710.4 L398.1,710.4 L474,714.9"/><path d="M170.5,682 L246.4,698.3 L322.3,713.2 L398.1,714.4 L474,718.5"/><path d="M170.5,646.6 L246.4,664.9 L322.3,704.8 L398.1,705.7 L474,713.6"/><path d="M170.5,673.8 L246.4,687.2 L322.3,701.9 L398.1,701.3 L474,712.1"/><path d="M170.5,670.3 L246.4,667.5 L322.3,707.2 L398.1,706.8 L474,714.4"/><path d="M170.5,617.4 L246.4,642 L322.3,692.4 L398.1,692.4 L474,702.2"/><path d="M170.5,634.7 L246.4,639.8 L322.3,690.6 L398.1,692.8 L474,699.4"/><path d="M170.5,636.8 L246.4,638.6 L322.3,697.4 L398.1,698.9 L474,704.3"/><path d="M170.5,643.3 L246.4,643 L322.3,695.8 L398.1,696.1 L474,706"/><path d="M170.5,645 L246.4,645 L322.3,696.1 L398.1,697.4 L474,701.4"/><path d="M170.5,621.1 L246.4,612 L322.3,683 L398.1,686.2 L474,692.2"/><path d="M170.5,658.5 L246.4,663.1 L322.3,707.4 L398.1,705.5 L474,711.1"/><path d="M170.5,610.3 L246.4,607.5 L322.3,687.8 L398.1,683 L474,689.2"/><path d="M170.5,684.7 L246.4,691.5 L322.3,708.6 L398.1,708.2 L474,708.6"/><path d="M170.5,663.5 L246.4,648.1 L322.3,703.9 L398.1,704.4 L474,712.8"/><path d="M170.5,694.6 L246.4,719.5 L322.3,716.1 L398.1,716.1 L474,718.8"/><path d="M170.5,666 L246.4,657.8 L322.3,702.9 L398.1,707 L474,710.9"/><path d="M170.5,644.2 L246.4,652.1 L322.3,706.4 L398.1,706.6 L474,710.7"/><path d="M170.5,622.8 L246.4,633.5 L322.3,703.6 L398.1,703.6 L474,706.3"/><path d="M170.5,678.6 L246.4,698.8 L322.3,714.4 L398.1,713.2 L474,719.9"/><path d="M170.5,656.4 L246.4,694.9 L322.3,701.6 L398.1,700.8 L474,707.9"/><path d="M170.5,666.8 L246.4,686.2 L322.3,697.7 L398.1,696.4 L474,705"/><path d="M170.5,680.6 L246.4,697.7 L322.3,707 L398.1,706.2 L474,714.1"/><path d="M170.5,690.3 L246.4,695.8 L322.3,703.4 L398.1,702.9 L474,708.4"/><path d="M170.5,654.9 L246.4,690.4 L322.3,709.7 L398.1,707.8 L474,716.8"/><path d="M170.5,703.1 L246.4,696.8 L322.3,709.9 L398.1,710.8 L474,718.3"/><path d="M170.5,653.4 L246.4,660.5 L322.3,700.8 L398.1,701.6 L474,705.8"/><path d="M170.5,655.6 L246.4,672.8 L322.3,708.8 L398.1,710.6 L474,715.9"/><path d="M170.5,677.6 L246.4,696.3 L322.3,713.5 L398.1,711.4 L474,716.1"/><path d="M170.5,685.4 L246.4,702 L322.3,710.6 L398.1,709.5 L474,719.1"/><path d="M170.5,697.4 L246.4,707.8 L322.3,715.4 L398.1,714.9 L474,720.7"/><path d="M170.5,607.2 L246.4,625.3 L322.3,700.3 L398.1,700.3 L474,707.5"/><path d="M170.5,692.3 L246.4,700.6 L322.3,709.1 L398.1,709.1 L474,714.6"/><path d="M170.5,619.3 L246.4,628.9 L322.3,696.4 L398.1,696.6 L474,703.7"/><path d="M170.5,640.7 L246.4,671.9 L322.3,699.7 L398.1,699.7 L474,702.4"/><path d="M170.5,667.7 L246.4,683.2 L322.3,706.8 L398.1,706.4 L474,711.8"/><path d="M170.5,689.4 L246.4,705.4 L322.3,714 L398.1,714 L474,717.7"/><path d="M170.5,631.2 L246.4,637.4 L322.3,696.9 L398.1,696.9 L474,702.9"/><path d="M170.5,612.9 L246.4,588.8 L322.3,688.9 L398.1,688.9 L474,695.7"/><path d="M170.5,684 L246.4,688.3 L322.3,710.1 L398.1,709.9 L474,716.2"/><path d="M170.5,664.3 L246.4,679.4 L322.3,708 L398.1,708.4 L474,710.4"/><path d="M170.5,629.9 L246.4,659.6 L322.3,698 L398.1,699.1 L474,703.2"/><path d="M170.5,648.9 L246.4,678.4 L322.3,702.6 L398.1,703.1 L474,707.7"/><path d="M170.5,598.8 L246.4,636.2 L322.3,691.8 L398.1,691.3 L474,697.1"/><path d="M170.5,674.8 L246.4,675.6 L322.3,712.5 L398.1,712.5 L474,716.6"/><path d="M170.5,642.5 L246.4,664 L322.3,704.1 L398.1,704.1 L474,706.5"/><path d="M170.5,691.3 L246.4,699.4 L322.3,711.9 L398.1,712.2 L474,715.7"/><path d="M170.5,592.2 L246.4,618.5 L322.3,694.1 L398.1,694.8 L474,700.1"/><path d="M170.5,679.6 L246.4,692.6 L322.3,709.5 L398.1,708.6 L474,711.4"/><path d="M170.5,710 L246.4,704.4 L322.3,714.9 L398.1,715.4 L474,720.3"/><path d="M170.5,660.1 L246.4,680.3 L322.3,702.4 L398.1,701.9 L474,704"/><path d="M170.5,661 L246.4,676.5 L322.3,704.4 L398.1,703.9 L474,709.1"/><path d="M170.5,603.5 L246.4,627.2 L322.3,700.5 L398.1,702.1 L474,713.1"/><path d="M170.5,665.1 L246.4,668.3 L322.3,697.2 L398.1,697.7 L474,701.1"/><path d="M170.5,657.8 L246.4,685.2 L322.3,701.3 L398.1,702.4 L474,707.2"/><path d="M170.5,641.6 L246.4,669.2 L322.3,706.6 L398.1,707.4 L474,715.5"/><path d="M571.5,683.4 L647.3,685.2 L723.2,710.2 L799,710.2 L874.9,709"/><path d="M571.5,702.5 L647.3,695.3 L723.2,707.8 L799,706.4 L874.9,706.7"/><path d="M571.5,566.8 L647.3,584.9 L723.2,687.3 L799,687.3 L874.9,687.3"/><path d="M571.5,657.2 L647.3,695.9 L723.2,701.5 L799,701.5 L874.9,702.3"/><path d="M571.5,709.6 L647.3,703.8 L723.2,709.2 L799,708.3 L874.9,707.2"/><path d="M571.5,654.7 L647.3,661.3 L723.2,693.9 L799,694.3 L874.9,695"/><path d="M571.5,689.8 L647.3,704.2 L723.2,712.8 L799,713.3 L874.9,712.8"/><path d="M571.5,601.7 L647.3,694.7 L723.2,700 L799,698.8 L874.9,698.5"/><path d="M571.5,703.5 L647.3,689.7 L723.2,704.2 L799,702.3 L874.9,704"/><path d="M571.5,717.6 L647.3,699.4 L723.2,708.7 L799,709.4 L874.9,710.2"/><path d="M571.5,676.4 L647.3,687.5 L723.2,698.5 L799,699 L874.9,699.2"/><path d="M571.5,687.3 L647.3,703 L723.2,711.7 L799,712.8 L874.9,713.3"/><path d="M571.5,692.2 L647.3,692.7 L723.2,692.6 L799,693 L874.9,692.6"/><path d="M571.5,715.1 L647.3,708.3 L723.2,709.9 L799,710.5 L874.9,710.7"/><path d="M571.5,663.2 L647.3,666.3 L723.2,690.2 L799,690.2 L874.9,690.9"/><path d="M571.5,617.8 L647.3,697.4 L723.2,709.4 L799,709.2 L874.9,709.2"/><path d="M571.5,713.3 L647.3,706.1 L723.2,704 L799,704 L874.9,705.4"/><path d="M571.5,630.9 L647.3,680.3 L723.2,708.1 L799,707.8 L874.9,707.5"/><path d="M571.5,697.5 L647.3,710.5 L723.2,718.1 L799,718.1 L874.9,718.1"/><path d="M571.5,558.3 L647.3,567.4 L723.2,685.5 L799,685.5 L874.9,685.5"/><path d="M571.5,660.9 L647.3,689 L723.2,697.7 L799,698.1 L874.9,696.9"/><path d="M571.5,682.7 L647.3,700.1 L723.2,712.4 L799,709.9 L874.9,710.5"/><path d="M571.5,636.4 L647.3,665.2 L723.2,693 L799,692.1 L874.9,692.1"/><path d="M571.5,656 L647.3,705.1 L723.2,711.4 L799,712 L874.9,711.7"/><path d="M571.5,698.4 L647.3,699.7 L723.2,703.5 L799,704.4 L874.9,703"/><path d="M571.5,651 L647.3,672.6 L723.2,697.4 L799,697.4 L874.9,698.1"/><path d="M571.5,695.7 L647.3,696.5 L723.2,698.6 L799,699.5 L874.9,700.7"/><path d="M571.5,711.8 L647.3,696.8 L723.2,713.8 L799,713.8 L874.9,715.7"/><path d="M571.5,588 L647.3,691.9 L723.2,694.3 L799,695 L874.9,693.5"/><path d="M571.5,688.1 L647.3,717.5 L723.2,707.2 L799,705.9 L874.9,704.9"/><path d="M571.5,699.9 L647.3,698.1 L723.2,705.9 L799,706.2 L874.9,703.3"/><path d="M571.5,667.7 L647.3,678.6 L723.2,705.7 L799,706.7 L874.9,705.2"/><path d="M571.5,708.7 L647.3,668.4 L723.2,708.3 L799,708.7 L874.9,708.7"/><path d="M571.5,707.1 L647.3,698.7 L723.2,711 L799,712.4 L874.9,712"/><path d="M571.5,694.8 L647.3,706.6 L723.2,704.7 L799,704.7 L874.9,703.5"/><path d="M571.5,696.6 L647.3,685.9 L723.2,701.8 L799,701.9 L874.9,701.9"/><path d="M571.5,675.3 L647.3,702.3 L723.2,713.3 L799,711 L874.9,709.9"/><path d="M571.5,634.7 L647.3,701.9 L723.2,708.5 L799,709 L874.9,708.3"/><path d="M571.5,693.9 L647.3,619.3 L723.2,689.4 L799,688.5 L874.9,688.5"/><path d="M571.5,658.5 L647.3,679.5 L723.2,701.1 L799,701.1 L874.9,701.5"/><path d="M571.5,653.4 L647.3,667.4 L723.2,700.7 L799,700.3 L874.9,699"/><path d="M571.5,704 L647.3,697.8 L723.2,696.3 L799,696.9 L874.9,696.6"/><path d="M571.5,671 L647.3,640.9 L723.2,693.5 L799,693.9 L874.9,694.7"/><path d="M571.5,703 L647.3,699.1 L723.2,703.7 L799,702.6 L874.9,701.1"/><path d="M571.5,638 L647.3,648.7 L723.2,698.3 L799,697.7 L874.9,697.7"/><path d="M571.5,659.7 L647.3,701.5 L723.2,714.3 L799,714.3 L874.9,713.8"/><path d="M571.5,677.5 L647.3,709.7 L723.2,715 L799,715 L874.9,715"/><path d="M571.5,706.4 L647.3,682.8 L723.2,702.8 L799,703 L874.9,705.7"/><path d="M571.5,674.3 L647.3,655.6 L723.2,698.1 L799,697.9 L874.9,697.1"/><path d="M571.5,701.1 L647.3,696.2 L723.2,699.9 L799,700 L874.9,701.3"/><path d="M571.5,652.1 L647.3,677.8 L723.2,697.1 L799,696.3 L874.9,696.3"/><path d="M571.5,680.4 L647.3,695 L723.2,700.3 L799,699.7 L874.9,700.8"/><path d="M571.5,701.6 L647.3,707.1 L723.2,707 L799,707.2 L874.9,705.9"/><path d="M571.5,645 L647.3,622.4 L723.2,698.8 L799,698.6 L874.9,698.8"/><path d="M571.5,649.8 L647.3,664 L723.2,709.7 L799,709.7 L874.9,709.4"/><path d="M571.5,699.4 L647.3,693.4 L723.2,705.4 L799,705.4 L874.9,707"/><path d="M571.5,632.9 L647.3,662.7 L723.2,703.3 L799,703.7 L874.9,703.7"/><path d="M571.5,685 L647.3,674 L723.2,702.1 L799,701 L874.9,702.1"/><path d="M571.5,686.6 L647.3,690.5 L723.2,702.3 L799,701.8 L874.9,701.6"/><path d="M571.5,673.2 L647.3,674.7 L723.2,706.7 L799,707 L874.9,706.2"/><path d="M571.5,700.7 L647.3,713.7 L723.2,716.7 L799,716.7 L874.9,714.3"/><path d="M571.5,693.1 L647.3,691.2 L723.2,701.6 L799,700.7 L874.9,698.6"/><path d="M571.5,681.1 L647.3,630.6 L723.2,694.7 L799,695.3 L874.9,694.3"/><path d="M571.5,624 L647.3,684.4 L723.2,704.4 L799,703.5 L874.9,702.8"/><path d="M571.5,626.5 L647.3,673.3 L723.2,696.6 L799,697.1 L874.9,697.4"/><path d="M571.5,684.2 L647.3,675.4 L723.2,700.2 L799,700.2 L874.9,701"/><path d="M571.5,621.1 L647.3,634.7 L723.2,699.5 L799,701.3 L874.9,700"/><path d="M571.5,678.5 L647.3,681.2 L723.2,699 L799,698.5 L874.9,698.3"/><path d="M571.5,665.5 L647.3,709 L723.2,697.9 L799,698.3 L874.9,699.7"/><path d="M571.5,646.3 L647.3,669.3 L723.2,701.3 L799,700.8 L874.9,699.9"/><path d="M571.5,668.8 L647.3,704.7 L723.2,699.2 L799,699.3 L874.9,699.3"/><path d="M571.5,556.8 L647.3,555 L723.2,682.2 L799,682.2 L874.9,682.2"/><path d="M571.5,669.9 L647.3,676.9 L723.2,692.1 L799,692.6 L874.9,693"/><path d="M571.5,705.2 L647.3,705.6 L723.2,712 L799,711.4 L874.9,712.4"/><path d="M571.5,628.8 L647.3,652.7 L723.2,688.5 L799,689.4 L874.9,689.4"/><path d="M571.5,691.4 L647.3,613.1 L723.2,691.5 L799,691.5 L874.9,690.2"/><path d="M571.5,685.8 L647.3,682 L723.2,701 L799,700.5 L874.9,700.3"/><path d="M571.5,722.6 L647.3,707.7 L723.2,709 L799,708.5 L874.9,709.7"/><path d="M571.5,641 L647.3,698.4 L723.2,699.3 L799,699.2 L874.9,699.5"/><path d="M571.5,647.5 L647.3,697.1 L723.2,701.9 L799,701.6 L874.9,701.8"/><path d="M571.5,648.7 L647.3,700.4 L723.2,706.2 L799,705.7 L874.9,708.1"/><path d="M571.5,642.4 L647.3,694.1 L723.2,695.7 L799,696 L874.9,697.9"/><path d="M571.5,613.9 L647.3,695.6 L723.2,707.5 L799,707.5 L874.9,708.5"/><path d="M571.5,679.6 L647.3,701.2 L723.2,710.5 L799,710.7 L874.9,711"/><path d="M571.5,643.7 L647.3,688.2 L723.2,696.9 L799,696.6 L874.9,696"/><path d="M571.5,700.3 L647.3,711.4 L723.2,704.9 L799,704.2 L874.9,704.4"/><path d="M571.5,688.9 L647.3,712.4 L723.2,702.6 L799,703.3 L874.9,702.6"/><path d="M571.5,639.5 L647.3,700.8 L723.2,710.7 L799,711.7 L874.9,711.4"/><path d="M571.5,664.3 L647.3,676.1 L723.2,695 L799,694.7 L874.9,695.3"/><path d="M571.5,705.8 L647.3,702.6 L723.2,703 L799,704.9 L874.9,704.7"/><path d="M571.5,666.6 L647.3,657.8 L723.2,690.9 L799,690.9 L874.9,691.5"/><path d="M571.5,681.9 L647.3,671.8 L723.2,706.4 L799,705.2 L874.9,706.4"/><path d="M571.5,702 L647.3,703.4 L723.2,705.2 L799,708.1 L874.9,707.8"/><path d="M571.5,662 L647.3,670.1 L723.2,699.7 L799,699.9 L874.9,700.2"/><path d="M571.5,690.6 L647.3,715.2 L723.2,720.8 L799,720.8 L874.9,720.8"/><path d="M571.5,710.7 L647.3,659.7 L723.2,700.8 L799,702.1 L874.9,704.2"/><path d="M571.5,704.6 L647.3,686.7 L723.2,695.3 L799,693.5 L874.9,693.9"/><path d="M571.5,608.9 L647.3,671 L723.2,700.5 L799,702.8 L874.9,700.5"/><path d="M571.5,707.9 L647.3,721.8 L723.2,715.7 L799,715.7 L874.9,716.7"/><path d="M571.5,672.1 L647.3,683.6 L723.2,696 L799,695.7 L874.9,695.7"/><path d="M170.5,913 L246.4,933.6 L322.3,950.3 L398.1,959.6 L474,976.1"/><path d="M170.5,906.1 L246.4,913.5 L322.3,940.2 L398.1,940.7 L474,935.5"/><path d="M170.5,910 L246.4,925.6 L322.3,929.5 L398.1,932.4 L474,952.7"/><path d="M170.5,942.6 L246.4,963.8 L322.3,941.1 L398.1,949.4 L474,952.9"/><path d="M170.5,897.5 L246.4,901.8 L322.3,946.3 L398.1,952.8 L474,960.7"/><path d="M170.5,938.7 L246.4,944.7 L322.3,943.4 L398.1,936.5 L474,959.9"/><path d="M170.5,943.7 L246.4,954.7 L322.3,953 L398.1,960.3 L474,964.9"/><path d="M170.5,933.8 L246.4,939.1 L322.3,948 L398.1,956.5 L474,952.4"/><path d="M170.5,924.5 L246.4,927.1 L322.3,942 L398.1,946 L474,953.5"/><path d="M170.5,903.3 L246.4,920.1 L322.3,944.7 L398.1,953.8 L474,948.6"/><path d="M170.5,905.4 L246.4,940.7 L322.3,936.2 L398.1,941.8 L474,951.8"/><path d="M170.5,923 L246.4,952.8 L322.3,952.3 L398.1,948.5 L474,953.7"/><path d="M170.5,898.9 L246.4,900.6 L322.3,933 L398.1,927.3 L474,941.7"/><path d="M170.5,918.3 L246.4,928.6 L322.3,935.6 L398.1,952.5 L474,951.6"/><path d="M170.5,899.6 L246.4,914.3 L322.3,934.4 L398.1,939 L474,931.5"/><path d="M170.5,954 L246.4,962.3 L322.3,963.3 L398.1,960.7 L474,957.6"/><path d="M170.5,956.2 L246.4,959.9 L322.3,964.1 L398.1,963 L474,961.9"/><path d="M170.5,901.5 L246.4,917.7 L322.3,925.5 L398.1,934 L474,948.3"/><path d="M170.5,952 L246.4,961 L322.3,962.7 L398.1,963.4 L474,970.4"/><path d="M170.5,928.8 L246.4,951 L322.3,960.6 L398.1,950.6 L474,944.4"/><path d="M170.5,924 L246.4,911.3 L322.3,951.5 L398.1,955.9 L474,968.8"/><path d="M170.5,931.8 L246.4,943 L322.3,960.1 L398.1,958.2 L474,969.3"/><path d="M170.5,931.2 L246.4,954.1 L322.3,968.7 L398.1,967.7 L474,967.3"/><path d="M170.5,893.2 L246.4,920.9 L322.3,942.9 L398.1,944.7 L474,954.8"/><path d="M170.5,962.3 L246.4,971 L322.3,974.7 L398.1,974.1 L474,953.2"/><path d="M170.5,900.3 L246.4,905.2 L322.3,963 L398.1,954.1 L474,977.5"/><path d="M170.5,876.7 L246.4,881.6 L322.3,927.1 L398.1,933.2 L474,940.4"/><path d="M170.5,921 L246.4,940.2 L322.3,945.1 L398.1,945.6 L474,946.9"/><path d="M170.5,922.5 L246.4,937.4 L322.3,949.5 L398.1,951.8 L474,965.6"/><path d="M170.5,902.1 L246.4,923.3 L322.3,959.2 L398.1,964.8 L474,971"/><path d="M170.5,891.1 L246.4,906.1 L322.3,928.4 L398.1,939.4 L474,944.8"/><path d="M170.5,946 L246.4,946.6 L322.3,964.5 L398.1,970.2 L474,954"/><path d="M170.5,917.7 L246.4,932.2 L322.3,963.7 L398.1,959.2 L474,969.8"/><path d="M170.5,927.2 L246.4,909.7 L322.3,953.4 L398.1,957.8 L474,975"/><path d="M170.5,906.7 L246.4,932.9 L322.3,950.7 L398.1,958.5 L474,951.3"/><path d="M170.5,916 L246.4,934.3 L322.3,940.6 L398.1,941.4 L474,939.6"/><path d="M170.5,904 L246.4,910.5 L322.3,930.5 L398.1,930.3 L474,945.3"/><path d="M170.5,930.6 L246.4,947.9 L322.3,956.6 L398.1,968.5 L474,981.6"/><path d="M170.5,920 L246.4,952.2 L322.3,969.4 L398.1,955.6 L474,946.1"/><path d="M170.5,937 L246.4,957 L322.3,968 L398.1,967.1 L474,968.3"/><path d="M170.5,936.1 L246.4,948.9 L322.3,965.8 L398.1,965.9 L474,955.1"/><path d="M170.5,925.6 L246.4,935.3 L322.3,955.4 L398.1,945.1 L474,951"/><path d="M170.5,926.1 L246.4,941.3 L322.3,972.8 L398.1,969.3 L474,973.2"/><path d="M170.5,944.8 L246.4,949.9 L322.3,958.3 L398.1,961.4 L474,966.5"/><path d="M170.5,892.2 L246.4,894.2 L322.3,923.5 L398.1,920.3 L474,927"/><path d="M170.5,925.1 L246.4,935.8 L322.3,955 L398.1,962.6 L474,949.9"/><path d="M170.5,950.3 L246.4,958.8 L322.3,961.4 L398.1,958.9 L474,979.2"/><path d="M170.5,895.9 L246.4,912.8 L322.3,954.6 L398.1,946.9 L474,961.5"/><path d="M170.5,937.8 L246.4,945.3 L322.3,970.3 L398.1,976.4 L474,956.5"/><path d="M170.5,908.1 L246.4,912.1 L322.3,948.7 L398.1,951.4 L474,958"/><path d="M170.5,922 L246.4,936.9 L322.3,939.7 L398.1,940.3 L474,959.1"/><path d="M170.5,913.6 L246.4,926.3 L322.3,937.8 L398.1,924.9 L474,938.8"/><path d="M170.5,915.4 L246.4,938 L322.3,958.8 L398.1,964.3 L474,964.5"/><path d="M170.5,933.1 L246.4,957.9 L322.3,951.9 L398.1,953.1 L474,956.2"/><path d="M170.5,920.5 L246.4,947.2 L322.3,962 L398.1,954.4 L474,962.3"/><path d="M170.5,887 L246.4,889.5 L322.3,894.1 L398.1,894.8 L474,901.5"/><path d="M170.5,958.9 L246.4,965.5 L322.3,964.9 L398.1,972.5 L474,974"/><path d="M170.5,919.5 L246.4,915.1 L322.3,947.6 L398.1,946.4 L474,949"/><path d="M170.5,911.2 L246.4,927.8 L322.3,939.3 L398.1,941.1 L474,955.4"/><path d="M170.5,941.5 L246.4,948.4 L322.3,965.3 L398.1,959.9 L474,964"/><path d="M170.5,947.4 L246.4,950.5 L322.3,966.3 L398.1,957.2 L474,961.1"/><path d="M170.5,880.5 L246.4,886.3 L322.3,942.5 L398.1,938.6 L474,937.9"/><path d="M170.5,929.4 L246.4,951.6 L322.3,957.5 L398.1,953.4 L474,952.1"/><path d="M170.5,883.1 L246.4,897.7 L322.3,935 L398.1,937.6 L474,946.5"/><path d="M170.5,907.4 L246.4,922.5 L322.3,945.5 L398.1,956.8 L474,954.2"/><path d="M170.5,918.9 L246.4,946 L322.3,962.3 L398.1,961 L474,957.3"/><path d="M170.5,909.3 L246.4,919.3 L322.3,931.4 L398.1,935.4 L474,933.8"/><path d="M170.5,904.7 L246.4,908.9 L322.3,944.3 L398.1,950.2 L474,950.2"/><path d="M170.5,895 L246.4,915.9 L322.3,951.1 L398.1,951 L474,941.1"/><path d="M170.5,910.6 L246.4,903 L322.3,915.3 L398.1,938.1 L474,936.8"/><path d="M170.5,916.6 L246.4,938.5 L322.3,938.3 L398.1,929 L474,942.9"/><path d="M170.5,914.8 L246.4,934.8 L322.3,946.7 L398.1,934.7 L474,947.3"/><path d="M170.5,894.1 L246.4,908 L322.3,961.1 L398.1,962.1 L474,954.5"/><path d="M170.5,900.9 L246.4,929.3 L322.3,956.2 L398.1,952.2 L474,950.4"/><path d="M170.5,940.5 L246.4,953.4 L322.3,952.6 L398.1,955 L474,958.8"/><path d="M170.5,935.3 L246.4,949.4 L322.3,959.7 L398.1,947.3 L474,966.1"/><path d="M170.5,912.4 L246.4,907.1 L322.3,906 L398.1,912.1 L474,918.3"/><path d="M170.5,934.6 L246.4,942.4 L322.3,967.4 L398.1,966.4 L474,962.7"/><path d="M170.5,930 L246.4,939.6 L322.3,943.8 L398.1,949 L474,948"/><path d="M170.5,939.6 L246.4,956.2 L322.3,966.8 L398.1,965.3 L474,956.9"/><path d="M170.5,928.3 L246.4,955.5 L322.3,945.9 L398.1,956.2 L474,971.7"/><path d="M170.5,911.8 L246.4,930 L322.3,948.3 L398.1,944.2 L474,943.9"/><path d="M170.5,898.2 L246.4,924.1 L322.3,936.8 L398.1,943.7 L474,955.8"/><path d="M170.5,921.5 L246.4,924.8 L322.3,955.8 L398.1,949.8 L474,950.7"/><path d="M170.5,885.2 L246.4,896.1 L322.3,947.2 L398.1,948.1 L474,949.6"/><path d="M170.5,923.5 L246.4,916.8 L322.3,957.9 L398.1,947.7 L474,960.3"/><path d="M170.5,869.4 L246.4,872.7 L322.3,920.7 L398.1,931.4 L474,947.6"/><path d="M170.5,896.7 L246.4,904.1 L322.3,949.1 L398.1,942.3 L474,967.8"/><path d="M170.5,908.7 L246.4,921.7 L322.3,933.7 L398.1,943.3 L474,958.4"/><path d="M170.5,932.4 L246.4,943.6 L322.3,941.6 L398.1,939.9 L474,963.2"/><path d="M170.5,976.5 L246.4,967.8 L322.3,971.4 L398.1,971.2 L474,965.3"/><path d="M170.5,926.6 L246.4,931.5 L322.3,961.7 L398.1,957.5 L474,959.5"/><path d="M170.5,914.2 L246.4,941.8 L322.3,957.1 L398.1,954.7 L474,949.3"/><path d="M170.5,888.5 L246.4,892.1 L322.3,938.8 L398.1,937.1 L474,943.4"/><path d="M170.5,948.8 L246.4,936.4 L322.3,937.3 L398.1,955.3 L474,963.6"/><path d="M170.5,889.8 L246.4,899.2 L322.3,932.3 L398.1,936 L474,942.3"/><path d="M170.5,927.7 L246.4,944.1 L322.3,949.9 L398.1,963.8 L474,966.9"/><path d="M170.5,902.7 L246.4,930.7 L322.3,953.8 L398.1,942.8 L474,945.7"/><path d="M170.5,967.2 L246.4,977.2 L322.3,978.4 L398.1,980.8 L474,986.3"/><path d="M170.5,917.2 L246.4,918.5 L322.3,954.2 L398.1,961.8 L474,972.4"/><path d="M571.5,885.9 L647.3,917.7 L723.2,940.9 L799,939.9 L874.9,944.4"/><path d="M571.5,882.4 L647.3,948.9 L723.2,954.9 L799,944.6 L874.9,927.5"/><path d="M571.5,907.3 L647.3,911.4 L723.2,919 L799,921.2 L874.9,924.3"/><path d="M571.5,824.9 L647.3,913.9 L723.2,941.3 L799,947.6 L874.9,944.9"/><path d="M571.5,800.6 L647.3,891.1 L723.2,915.6 L799,909.3 L874.9,922"/><path d="M571.5,916.7 L647.3,952.1 L723.2,943.5 L799,942.3 L874.9,943.4"/><path d="M571.5,915.1 L647.3,940.2 L723.2,927.1 L799,930 L874.9,939.6"/><path d="M571.5,956.7 L647.3,959.3 L723.2,929.1 L799,931.3 L874.9,924.8"/><path d="M571.5,894 L647.3,927.3 L723.2,924.4 L799,921.9 L874.9,928"/><path d="M571.5,923.3 L647.3,953 L723.2,936.5 L799,937.1 L874.9,930.5"/><path d="M571.5,950.9 L647.3,948.3 L723.2,950.6 L799,957.8 L874.9,962.8"/><path d="M571.5,858.1 L647.3,912.7 L723.2,936.9 L799,933.5 L874.9,936.8"/><path d="M571.5,840.6 L647.3,938.6 L723.2,930.4 L799,935.3 L874.9,925.3"/><path d="M571.5,930.7 L647.3,944.2 L723.2,922.7 L799,926 L874.9,935.6"/><path d="M571.5,918.3 L647.3,942.8 L723.2,923.9 L799,919.9 L874.9,935.3"/><path d="M571.5,933.2 L647.3,915.2 L723.2,909.3 L799,902.6 L874.9,906.2"/><path d="M571.5,828.3 L647.3,957.5 L723.2,944.3 L799,943.5 L874.9,955.8"/><path d="M571.5,941.5 L647.3,947.3 L723.2,941.7 L799,947.2 L874.9,950.7"/><path d="M571.5,910.4 L647.3,954.9 L723.2,935 L799,937.4 L874.9,928.8"/><path d="M571.5,795.2 L647.3,890 L723.2,923.5 L799,922.3 L874.9,932.1"/><path d="M571.5,884.1 L647.3,888.9 L723.2,924.9 L799,926.4 L874.9,923"/><path d="M571.5,843.5 L647.3,931.6 L723.2,946.1 L799,949.2 L874.9,959.4"/><path d="M571.5,897 L647.3,918.9 L723.2,921.2 L799,924.5 L874.9,917.2"/><path d="M571.5,938.6 L647.3,951.4 L723.2,959.4 L799,960.1 L874.9,947"/><path d="M571.5,891.1 L647.3,831.5 L723.2,913.2 L799,914.9 L874.9,920.1"/><path d="M571.5,850 L647.3,879.7 L723.2,938 L799,936.4 L874.9,936.4"/><path d="M571.5,935.6 L647.3,906.2 L723.2,918.5 L799,916.3 L874.9,923.8"/><path d="M571.5,854.1 L647.3,943.7 L723.2,949.9 L799,951.2 L874.9,951.5"/><path d="M571.5,814.3 L647.3,930.2 L723.2,923 L799,923 L874.9,918.4"/><path d="M571.5,821.1 L647.3,844.7 L723.2,934.2 L799,934.3 L874.9,943"/><path d="M571.5,942.7 L647.3,945.9 L723.2,946.6 L799,945.8 L874.9,940"/><path d="M571.5,934.4 L647.3,941.1 L723.2,925.3 L799,927.8 L874.9,938.4"/><path d="M571.5,944.1 L647.3,937 L723.2,947.1 L799,938.8 L874.9,942.1"/><path d="M571.5,819 L647.3,933.9 L723.2,934.6 L799,936.7 L874.9,948.8"/><path d="M571.5,839.4 L647.3,881.2 L723.2,926.2 L799,923.5 L874.9,914.2"/><path d="M571.5,834.3 L647.3,904.8 L723.2,951.3 L799,951.9 L874.9,953"/><path d="M571.5,932.1 L647.3,926.5 L723.2,927.5 L799,930.9 L874.9,929.2"/><path d="M571.5,937.8 L647.3,949.4 L723.2,938.8 L799,944.2 L874.9,950"/><path d="M571.5,878.8 L647.3,902.1 L723.2,940 L799,940.7 L874.9,931.7"/><path d="M571.5,875.1 L647.3,936.2 L723.2,930.8 L799,925 L874.9,942.5"/><path d="M571.5,931.6 L647.3,907.5 L723.2,937.3 L799,928.7 L874.9,929.7"/><path d="M571.5,869.6 L647.3,876.5 L723.2,933.1 L799,929.2 L874.9,916.5"/><path d="M571.5,836.9 L647.3,870.8 L723.2,921.6 L799,920.8 L874.9,926.2"/><path d="M571.5,860.1 L647.3,893.4 L723.2,933.9 L799,935.7 L874.9,934.5"/><path d="M571.5,936.3 L647.3,922.6 L723.2,910.9 L799,914.1 L874.9,913.3"/><path d="M571.5,947.9 L647.3,966.8 L723.2,967.1 L799,964.7 L874.9,975"/><path d="M571.5,902.8 L647.3,894.9 L723.2,919.9 L799,919 L874.9,921.1"/><path d="M571.5,863.9 L647.3,928 L723.2,921.9 L799,926.9 L874.9,922.5"/><path d="M571.5,904.3 L647.3,925.1 L723.2,952.9 L799,948.1 L874.9,945.4"/><path d="M571.5,921.6 L647.3,934.6 L723.2,956.1 L799,954.8 L874.9,954.8"/><path d="M571.5,930.2 L647.3,953.9 L723.2,942.2 L799,945.4 L874.9,949.4"/><path d="M571.5,831.4 L647.3,923.9 L723.2,937.6 L799,942.7 L874.9,938.8"/><path d="M571.5,892.6 L647.3,897.9 L723.2,922.3 L799,933 L874.9,932.5"/><path d="M571.5,871.4 L647.3,860.3 L723.2,912.1 L799,918 L874.9,912.3"/><path d="M571.5,933.8 L647.3,946.3 L723.2,945.6 L799,941.1 L874.9,934.1"/><path d="M571.5,929.7 L647.3,946.8 L723.2,952 L799,950.5 L874.9,956.8"/><path d="M571.5,865.8 L647.3,856.5 L723.2,949.3 L799,945 L874.9,968.5"/><path d="M571.5,935 L647.3,950.7 L723.2,942.6 L799,938.5 L874.9,930.9"/><path d="M571.5,939.5 L647.3,874.7 L723.2,932.7 L799,927.4 L874.9,923.4"/><path d="M571.5,912 L647.3,928.7 L723.2,928.3 L799,933.9 L874.9,940.4"/><path d="M571.5,816.8 L647.3,925.8 L723.2,929.6 L799,924 L874.9,941.7"/><path d="M571.5,862 L647.3,882.6 L723.2,938.4 L799,939.2 L874.9,943.9"/><path d="M571.5,804.9 L647.3,796.6 L723.2,892.2 L799,891.7 L874.9,897.9"/><path d="M571.5,895.5 L647.3,950 L723.2,932.3 L799,931.8 L874.9,939.2"/><path d="M571.5,908.9 L647.3,868.6 L723.2,914.1 L799,921.6 L874.9,927.1"/><path d="M571.5,940.4 L647.3,945.4 L723.2,953.8 L799,953.7 L874.9,953.9"/><path d="M571.5,928.6 L647.3,883.9 L723.2,925.8 L799,930.5 L874.9,921.6"/><path d="M571.5,808.5 L647.3,900.7 L723.2,933.5 L799,932.6 L874.9,932.9"/><path d="M571.5,856.1 L647.3,947.8 L723.2,947.6 L799,946.2 L874.9,947.6"/><path d="M571.5,829.9 L647.3,887.7 L723.2,935.7 L799,939.6 L874.9,941.2"/><path d="M571.5,832.9 L647.3,866.2 L723.2,918 L799,916.9 L874.9,909.8"/><path d="M571.5,887.7 L647.3,815.2 L723.2,914.9 L799,910.9 L874.9,908.2"/><path d="M571.5,899.9 L647.3,851.6 L723.2,916.9 L799,917.5 L874.9,917.8"/><path d="M571.5,873.3 L647.3,892.2 L723.2,931.5 L799,925.5 L874.9,938"/><path d="M571.5,835.6 L647.3,916.4 L723.2,917.5 L799,920.4 L874.9,928.4"/><path d="M571.5,845.7 L647.3,929.4 L723.2,931.9 L799,935 L874.9,930.1"/><path d="M571.5,841.8 L647.3,920.2 L723.2,962 L799,956.1 L874.9,965.2"/><path d="M571.5,867.7 L647.3,937.8 L723.2,944.7 L799,943.9 L874.9,937.6"/><path d="M571.5,931.1 L647.3,939.4 L723.2,939.2 L799,941.8 L874.9,937.2"/><path d="M571.5,905.8 L647.3,961.9 L723.2,943.1 L799,937.8 L874.9,933.3"/><path d="M571.5,932.7 L647.3,933.1 L723.2,939.6 L799,940.3 L874.9,933.7"/><path d="M571.5,823.1 L647.3,896.4 L723.2,927.9 L799,936 L874.9,931.3"/><path d="M571.5,945.8 L647.3,878.1 L723.2,928.7 L799,928.3 L874.9,936"/><path d="M571.5,901.4 L647.3,899.3 L723.2,920.4 L799,915.6 L874.9,919.6"/><path d="M571.5,787.5 L647.3,885.2 L723.2,926.6 L799,929.6 L874.9,915"/><path d="M571.5,913.5 L647.3,910.1 L723.2,935.4 L799,932.2 L874.9,940.8"/><path d="M571.5,937 L647.3,956.1 L723.2,957.5 L799,952.8 L874.9,960.9"/><path d="M571.5,889.5 L647.3,935.4 L723.2,931.1 L799,934.6 L874.9,926.7"/><path d="M571.5,811.6 L647.3,941.9 L723.2,945.2 L799,946.7 L874.9,948.1"/><path d="M571.5,898.4 L647.3,872.9 L723.2,940.4 L799,941.5 L874.9,945.9"/><path d="M571.5,838.2 L647.3,886.5 L723.2,919.5 L799,912.1 L874.9,925.8"/><path d="M571.5,876.9 L647.3,944.6 L723.2,948.7 L799,949.8 L874.9,946.4"/><path d="M571.5,920 L647.3,930.9 L723.2,930 L799,922.7 L874.9,919"/><path d="M571.5,772.6 L647.3,780.7 L723.2,907 L799,913.2 L874.9,903.4"/><path d="M571.5,880.6 L647.3,903.5 L723.2,916.3 L799,918.5 L874.9,920.6"/><path d="M571.5,926.8 L647.3,921.4 L723.2,920.8 L799,919.5 L874.9,915.8"/><path d="M571.5,925.1 L647.3,945 L723.2,948.1 L799,943.1 L874.9,952.2"/><path d="M571.5,852.1 L647.3,932.4 L723.2,936.1 L799,938.1 L874.9,934.9"/><path d="M571.5,847.9 L647.3,908.8 L723.2,943.9 L799,948.7 L874.9,958"/><path d="M571.5,826.7 L647.3,863.4 L723.2,902.6 L799,907 L874.9,911.1"/></g><rect x="151.6" y="166.8" width="37.9" height="59.2" fill="none" stroke="#1e1e1e" stroke-width="1.55"/><path d="M170.5,226 L170.5,238.4 M170.5,166.8 L170.5,91.6 M151.6,238.4 L189.5,238.4 M151.6,91.6 L189.5,91.6" fill="none" stroke="#1e1e1e" stroke-width="1.7" stroke-dasharray="5.6 5.7" stroke-linecap="round"/><rect x="227.4" y="187" width="37.9" height="41.2" fill="none" stroke="#1e1e1e" stroke-width="1.55"/><path d="M246.4,228.2 L246.4,238.4 M246.4,187 L246.4,142 M227.4,238.4 L265.4,238.4 M227.4,142 L265.4,142" fill="none" stroke="#1e1e1e" stroke-width="1.7" stroke-dasharray="5.6 5.7" stroke-linecap="round"/><circle cx="246.4" cy="82.9" r="4.6" fill="none" stroke="#1e1e1e" stroke-width="1.6"/><circle cx="246.4" cy="109.5" r="4.6" fill="none" stroke="#1e1e1e" stroke-width="1.6"/><circle cx="246.4" cy="114.2" r="4.6" fill="none" stroke="#1e1e1e" stroke-width="1.6"/><path d="M302.6,238.8 H341.9" stroke="#1e1e1e" stroke-width="1.55"/><path d="M322.3,238.8 L322.3,238.8 M322.3,238.8 L322.3,238.8 M303.3,238.8 L341.2,238.8 M303.3,238.8 L341.2,238.8" fill="none" stroke="#1e1e1e" stroke-width="1.7" stroke-dasharray="5.6 5.7" stroke-linecap="round"/><circle cx="322.3" cy="201.7" r="4.6" fill="none" stroke="#1e1e1e" stroke-width="1.6"/><circle cx="322.3" cy="223.1" r="4.6" fill="none" stroke="#1e1e1e" stroke-width="1.6"/><circle cx="322.3" cy="233.3" r="4.6" fill="none" stroke="#1e1e1e" stroke-width="1.6"/><circle cx="322.3" cy="235.1" r="4.6" fill="none" stroke="#1e1e1e" stroke-width="1.6"/><path d="M378.5,238.8 H417.8" stroke="#1e1e1e" stroke-width="1.55"/><path d="M398.1,238.8 L398.1,238.8 M398.1,238.8 L398.1,238.8 M379.2,238.8 L417.1,238.8 M379.2,238.8 L417.1,238.8" fill="none" stroke="#1e1e1e" stroke-width="1.7" stroke-dasharray="5.6 5.7" stroke-linecap="round"/><circle cx="398.1" cy="201.1" r="4.6" fill="none" stroke="#1e1e1e" stroke-width="1.6"/><circle cx="398.1" cy="222.4" r="4.6" fill="none" stroke="#1e1e1e" stroke-width="1.6"/><circle cx="398.1" cy="233.9" r="4.6" fill="none" stroke="#1e1e1e" stroke-width="1.6"/><circle cx="398.1" cy="236" r="4.6" fill="none" stroke="#1e1e1e" stroke-width="1.6"/><path d="M454.3,238.8 H493.7" stroke="#1e1e1e" stroke-width="1.55"/><path d="M474,238.8 L474,238.8 M474,238.8 L474,238.8 M455,238.8 L493,238.8 M455,238.8 L493,238.8" fill="none" stroke="#1e1e1e" stroke-width="1.7" stroke-dasharray="5.6 5.7" stroke-linecap="round"/><circle cx="474" cy="218.5" r="4.6" fill="none" stroke="#1e1e1e" stroke-width="1.6"/><circle cx="474" cy="222.1" r="4.6" fill="none" stroke="#1e1e1e" stroke-width="1.6"/><circle cx="474" cy="226.8" r="4.6" fill="none" stroke="#1e1e1e" stroke-width="1.6"/><circle cx="474" cy="230.9" r="4.6" fill="none" stroke="#1e1e1e" stroke-width="1.6"/><circle cx="474" cy="235" r="4.6" fill="none" stroke="#1e1e1e" stroke-width="1.6"/><rect x="552.5" y="205.8" width="37.9" height="32.5" fill="none" stroke="#1e1e1e" stroke-width="1.55"/><path d="M571.5,238.3 L571.5,238.3 M571.5,205.8 L571.5,162.1 M552.5,238.3 L590.5,238.3 M552.5,162.1 L590.5,162.1" fill="none" stroke="#1e1e1e" stroke-width="1.7" stroke-dasharray="5.6 5.7" stroke-linecap="round"/><circle cx="571.5" cy="114.3" r="4.6" fill="none" stroke="#1e1e1e" stroke-width="1.6"/><circle cx="571.5" cy="125.4" r="4.6" fill="none" stroke="#1e1e1e" stroke-width="1.6"/><circle cx="571.5" cy="132.2" r="4.6" fill="none" stroke="#1e1e1e" stroke-width="1.6"/><circle cx="571.5" cy="138.4" r="4.6" fill="none" stroke="#1e1e1e" stroke-width="1.6"/><circle cx="571.5" cy="148.7" r="4.6" fill="none" stroke="#1e1e1e" stroke-width="1.6"/><circle cx="571.5" cy="155.5" r="4.6" fill="none" stroke="#1e1e1e" stroke-width="1.6"/><rect x="628.4" y="228.4" width="37.9" height="9.9" fill="none" stroke="#1e1e1e" stroke-width="1.55"/><path d="M647.3,238.3 L647.3,238.3 M647.3,228.4 L647.3,213.6 M628.4,238.3 L666.3,238.3 M628.4,213.6 L666.3,213.6" fill="none" stroke="#1e1e1e" stroke-width="1.7" stroke-dasharray="5.6 5.7" stroke-linecap="round"/><circle cx="647.3" cy="127.5" r="4.6" fill="none" stroke="#1e1e1e" stroke-width="1.6"/><circle cx="647.3" cy="166.2" r="4.6" fill="none" stroke="#1e1e1e" stroke-width="1.6"/><circle cx="647.3" cy="172.4" r="4.6" fill="none" stroke="#1e1e1e" stroke-width="1.6"/><circle cx="647.3" cy="185.8" r="4.6" fill="none" stroke="#1e1e1e" stroke-width="1.6"/><circle cx="647.3" cy="201.2" r="4.6" fill="none" stroke="#1e1e1e" stroke-width="1.6"/><circle cx="647.3" cy="205.3" r="4.6" fill="none" stroke="#1e1e1e" stroke-width="1.6"/><circle cx="647.3" cy="209.5" r="4.6" fill="none" stroke="#1e1e1e" stroke-width="1.6"/><circle cx="647.3" cy="211.5" r="4.6" fill="none" stroke="#1e1e1e" stroke-width="1.6"/><path d="M703.5,238.5 H742.8" stroke="#1e1e1e" stroke-width="1.55"/><path d="M723.2,238.5 L723.2,238.5 M723.2,238.5 L723.2,238.5 M704.2,238.5 L742.1,238.5 M704.2,238.5 L742.1,238.5" fill="none" stroke="#1e1e1e" stroke-width="1.7" stroke-dasharray="5.6 5.7" stroke-linecap="round"/><path d="M779.4,238.5 H818.7" stroke="#1e1e1e" stroke-width="1.55"/><path d="M799,238.5 L799,238.5 M799,238.5 L799,238.5 M780.1,238.5 L818,238.5 M780.1,238.5 L818,238.5" fill="none" stroke="#1e1e1e" stroke-width="1.7" stroke-dasharray="5.6 5.7" stroke-linecap="round"/><path d="M855.2,238.5 H894.5" stroke="#1e1e1e" stroke-width="1.55"/><path d="M874.9,238.5 L874.9,238.5 M874.9,238.5 L874.9,238.5 M855.9,238.5 L893.8,238.5 M855.9,238.5 L893.8,238.5" fill="none" stroke="#1e1e1e" stroke-width="1.7" stroke-dasharray="5.6 5.7" stroke-linecap="round"/><rect x="151.6" y="413.3" width="37.9" height="23.1" fill="none" stroke="#1e1e1e" stroke-width="1.55"/><path d="M170.5,436.4 L170.5,465.1 M170.5,413.3 L170.5,385.2 M151.6,465.1 L189.5,465.1 M151.6,385.2 L189.5,385.2" fill="none" stroke="#1e1e1e" stroke-width="1.7" stroke-dasharray="5.6 5.7" stroke-linecap="round"/><circle cx="170.5" cy="475.1" r="4.6" fill="none" stroke="#1e1e1e" stroke-width="1.6"/><circle cx="170.5" cy="480.4" r="4.6" fill="none" stroke="#1e1e1e" stroke-width="1.6"/><rect x="227.4" y="424.4" width="37.9" height="31" fill="none" stroke="#1e1e1e" stroke-width="1.55"/><path d="M246.4,455.4 L246.4,490.6 M246.4,424.4 L246.4,390.1 M227.4,490.6 L265.4,490.6 M227.4,390.1 L265.4,390.1" fill="none" stroke="#1e1e1e" stroke-width="1.7" stroke-dasharray="5.6 5.7" stroke-linecap="round"/><rect x="303.3" y="473.9" width="37.9" height="11.6" fill="none" stroke="#1e1e1e" stroke-width="1.55"/><path d="M322.3,485.5 L322.3,493.2 M322.3,473.9 L322.3,459 M303.3,493.2 L341.2,493.2 M303.3,459 L341.2,459" fill="none" stroke="#1e1e1e" stroke-width="1.7" stroke-dasharray="5.6 5.7" stroke-linecap="round"/><circle cx="322.3" cy="438.5" r="4.6" fill="none" stroke="#1e1e1e" stroke-width="1.6"/><circle cx="322.3" cy="443.5" r="4.6" fill="none" stroke="#1e1e1e" stroke-width="1.6"/><circle cx="322.3" cy="452.1" r="4.6" fill="none" stroke="#1e1e1e" stroke-width="1.6"/><circle cx="322.3" cy="455.3" r="4.6" fill="none" stroke="#1e1e1e" stroke-width="1.6"/><rect x="379.2" y="473.9" width="37.9" height="11.6" fill="none" stroke="#1e1e1e" stroke-width="1.55"/><path d="M398.1,485.5 L398.1,492.7 M398.1,473.9 L398.1,458.6 M379.2,492.7 L417.1,492.7 M379.2,458.6 L417.1,458.6" fill="none" stroke="#1e1e1e" stroke-width="1.7" stroke-dasharray="5.6 5.7" stroke-linecap="round"/><circle cx="398.1" cy="438.5" r="4.6" fill="none" stroke="#1e1e1e" stroke-width="1.6"/><circle cx="398.1" cy="446" r="4.6" fill="none" stroke="#1e1e1e" stroke-width="1.6"/><circle cx="398.1" cy="450.9" r="4.6" fill="none" stroke="#1e1e1e" stroke-width="1.6"/><circle cx="398.1" cy="454.6" r="4.6" fill="none" stroke="#1e1e1e" stroke-width="1.6"/><rect x="455" y="466.5" width="37.9" height="11.8" fill="none" stroke="#1e1e1e" stroke-width="1.55"/><path d="M474,478.3 L474,490 M474,466.5 L474,452.6 M455,490 L493,490 M455,452.6 L493,452.6" fill="none" stroke="#1e1e1e" stroke-width="1.7" stroke-dasharray="5.6 5.7" stroke-linecap="round"/><circle cx="474" cy="432.4" r="4.6" fill="none" stroke="#1e1e1e" stroke-width="1.6"/><circle cx="474" cy="436" r="4.6" fill="none" stroke="#1e1e1e" stroke-width="1.6"/><circle cx="474" cy="447.2" r="4.6" fill="none" stroke="#1e1e1e" stroke-width="1.6"/><rect x="552.5" y="391.5" width="37.9" height="66.5" fill="none" stroke="#1e1e1e" stroke-width="1.55"/><path d="M571.5,458 L571.5,482.7 M571.5,391.5 L571.5,333 M552.5,482.7 L590.5,482.7 M552.5,333 L590.5,333" fill="none" stroke="#1e1e1e" stroke-width="1.7" stroke-dasharray="5.6 5.7" stroke-linecap="round"/><rect x="628.4" y="432.3" width="37.9" height="36" fill="none" stroke="#1e1e1e" stroke-width="1.55"/><path d="M647.3,468.3 L647.3,484.8 M647.3,432.3 L647.3,379.7 M628.4,484.8 L666.3,484.8 M628.4,379.7 L666.3,379.7" fill="none" stroke="#1e1e1e" stroke-width="1.7" stroke-dasharray="5.6 5.7" stroke-linecap="round"/><circle cx="647.3" cy="344.3" r="4.6" fill="none" stroke="#1e1e1e" stroke-width="1.6"/><circle cx="647.3" cy="355" r="4.6" fill="none" stroke="#1e1e1e" stroke-width="1.6"/><circle cx="647.3" cy="360.2" r="4.6" fill="none" stroke="#1e1e1e" stroke-width="1.6"/><circle cx="647.3" cy="369.4" r="4.6" fill="none" stroke="#1e1e1e" stroke-width="1.6"/><circle cx="647.3" cy="374.6" r="4.6" fill="none" stroke="#1e1e1e" stroke-width="1.6"/><rect x="704.2" y="454.5" width="37.9" height="24.1" fill="none" stroke="#1e1e1e" stroke-width="1.55"/><path d="M723.2,478.6 L723.2,489.4 M723.2,454.5 L723.2,427.6 M704.2,489.4 L742.1,489.4 M704.2,427.6 L742.1,427.6" fill="none" stroke="#1e1e1e" stroke-width="1.7" stroke-dasharray="5.6 5.7" stroke-linecap="round"/><rect x="780.1" y="455.1" width="37.9" height="23.5" fill="none" stroke="#1e1e1e" stroke-width="1.55"/><path d="M799,478.6 L799,489.5 M799,455.1 L799,427.7 M780.1,489.5 L818,489.5 M780.1,427.7 L818,427.7" fill="none" stroke="#1e1e1e" stroke-width="1.7" stroke-dasharray="5.6 5.7" stroke-linecap="round"/><rect x="855.9" y="452.4" width="37.9" height="18" fill="none" stroke="#1e1e1e" stroke-width="1.55"/><path d="M874.9,470.4 L874.9,487.2 M874.9,452.4 L874.9,428.4 M855.9,487.2 L893.8,487.2 M855.9,428.4 L893.8,428.4" fill="none" stroke="#1e1e1e" stroke-width="1.7" stroke-dasharray="5.6 5.7" stroke-linecap="round"/><rect x="151.6" y="639.4" width="37.9" height="41.7" fill="none" stroke="#1e1e1e" stroke-width="1.55"/><path d="M170.5,681.1 L170.5,717.9 M170.5,639.4 L170.5,579.4 M151.6,717.9 L189.5,717.9 M151.6,579.4 L189.5,579.4" fill="none" stroke="#1e1e1e" stroke-width="1.7" stroke-dasharray="5.6 5.7" stroke-linecap="round"/><rect x="227.4" y="646.5" width="37.9" height="47.8" fill="none" stroke="#1e1e1e" stroke-width="1.55"/><path d="M246.4,694.3 L246.4,719.5 M246.4,646.5 L246.4,588.8 M227.4,719.5 L265.4,719.5 M227.4,588.8 L265.4,588.8" fill="none" stroke="#1e1e1e" stroke-width="1.7" stroke-dasharray="5.6 5.7" stroke-linecap="round"/><rect x="303.3" y="697.8" width="37.9" height="11.6" fill="none" stroke="#1e1e1e" stroke-width="1.55"/><path d="M322.3,709.4 L322.3,721.8 M322.3,697.8 L322.3,683 M303.3,721.8 L341.2,721.8 M303.3,683 L341.2,683" fill="none" stroke="#1e1e1e" stroke-width="1.7" stroke-dasharray="5.6 5.7" stroke-linecap="round"/><rect x="379.2" y="697.8" width="37.9" height="11.6" fill="none" stroke="#1e1e1e" stroke-width="1.55"/><path d="M398.1,709.4 L398.1,721.8 M398.1,697.8 L398.1,683 M379.2,721.8 L417.1,721.8 M379.2,683 L417.1,683" fill="none" stroke="#1e1e1e" stroke-width="1.7" stroke-dasharray="5.6 5.7" stroke-linecap="round"/><rect x="455" y="703.3" width="37.9" height="12.3" fill="none" stroke="#1e1e1e" stroke-width="1.55"/><path d="M474,715.6 L474,726.2 M474,703.3 L474,689.2 M455,726.2 L493,726.2 M455,689.2 L493,689.2" fill="none" stroke="#1e1e1e" stroke-width="1.7" stroke-dasharray="5.6 5.7" stroke-linecap="round"/><rect x="552.5" y="651.8" width="37.9" height="47.8" fill="none" stroke="#1e1e1e" stroke-width="1.55"/><path d="M571.5,699.6 L571.5,722.6 M571.5,651.8 L571.5,588 M552.5,722.6 L590.5,722.6 M552.5,588 L590.5,588" fill="none" stroke="#1e1e1e" stroke-width="1.7" stroke-dasharray="5.6 5.7" stroke-linecap="round"/><circle cx="571.5" cy="556.8" r="4.6" fill="none" stroke="#1e1e1e" stroke-width="1.6"/><circle cx="571.5" cy="558.3" r="4.6" fill="none" stroke="#1e1e1e" stroke-width="1.6"/><circle cx="571.5" cy="566.8" r="4.6" fill="none" stroke="#1e1e1e" stroke-width="1.6"/><rect x="628.4" y="676.4" width="37.9" height="25.7" fill="none" stroke="#1e1e1e" stroke-width="1.55"/><path d="M647.3,702.1 L647.3,721.8 M647.3,676.4 L647.3,640.9 M628.4,721.8 L666.3,721.8 M628.4,640.9 L666.3,640.9" fill="none" stroke="#1e1e1e" stroke-width="1.7" stroke-dasharray="5.6 5.7" stroke-linecap="round"/><circle cx="647.3" cy="555" r="4.6" fill="none" stroke="#1e1e1e" stroke-width="1.6"/><circle cx="647.3" cy="567.4" r="4.6" fill="none" stroke="#1e1e1e" stroke-width="1.6"/><circle cx="647.3" cy="584.9" r="4.6" fill="none" stroke="#1e1e1e" stroke-width="1.6"/><circle cx="647.3" cy="613.1" r="4.6" fill="none" stroke="#1e1e1e" stroke-width="1.6"/><circle cx="647.3" cy="619.3" r="4.6" fill="none" stroke="#1e1e1e" stroke-width="1.6"/><circle cx="647.3" cy="622.4" r="4.6" fill="none" stroke="#1e1e1e" stroke-width="1.6"/><circle cx="647.3" cy="630.6" r="4.6" fill="none" stroke="#1e1e1e" stroke-width="1.6"/><circle cx="647.3" cy="634.7" r="4.6" fill="none" stroke="#1e1e1e" stroke-width="1.6"/><rect x="704.2" y="697.8" width="37.9" height="10.4" fill="none" stroke="#1e1e1e" stroke-width="1.55"/><path d="M723.2,708.2 L723.2,720.8 M723.2,697.8 L723.2,682.2 M704.2,720.8 L742.1,720.8 M704.2,682.2 L742.1,682.2" fill="none" stroke="#1e1e1e" stroke-width="1.7" stroke-dasharray="5.6 5.7" stroke-linecap="round"/><rect x="780.1" y="697.8" width="37.9" height="10.4" fill="none" stroke="#1e1e1e" stroke-width="1.55"/><path d="M799,708.2 L799,720.8 M799,697.8 L799,682.2 M780.1,720.8 L818,720.8 M780.1,682.2 L818,682.2" fill="none" stroke="#1e1e1e" stroke-width="1.7" stroke-dasharray="5.6 5.7" stroke-linecap="round"/><rect x="855.9" y="697.8" width="37.9" height="10.4" fill="none" stroke="#1e1e1e" stroke-width="1.55"/><path d="M874.9,708.2 L874.9,720.8 M874.9,697.8 L874.9,682.2 M855.9,720.8 L893.8,720.8 M855.9,682.2 L893.8,682.2" fill="none" stroke="#1e1e1e" stroke-width="1.7" stroke-dasharray="5.6 5.7" stroke-linecap="round"/><rect x="151.6" y="903.6" width="37.9" height="29.1" fill="none" stroke="#1e1e1e" stroke-width="1.55"/><path d="M170.5,932.7 L170.5,976.5 M170.5,903.6 L170.5,869.4 M151.6,976.5 L189.5,976.5 M151.6,869.4 L189.5,869.4" fill="none" stroke="#1e1e1e" stroke-width="1.7" stroke-dasharray="5.6 5.7" stroke-linecap="round"/><rect x="227.4" y="914.6" width="37.9" height="33.6" fill="none" stroke="#1e1e1e" stroke-width="1.55"/><path d="M246.4,948.2 L246.4,977.2 M246.4,914.6 L246.4,872.7 M227.4,977.2 L265.4,977.2 M227.4,872.7 L265.4,872.7" fill="none" stroke="#1e1e1e" stroke-width="1.7" stroke-dasharray="5.6 5.7" stroke-linecap="round"/><rect x="303.3" y="940.6" width="37.9" height="20.5" fill="none" stroke="#1e1e1e" stroke-width="1.55"/><path d="M322.3,961.1 L322.3,978.4 M322.3,940.6 L322.3,915.3 M303.3,978.4 L341.2,978.4 M303.3,915.3 L341.2,915.3" fill="none" stroke="#1e1e1e" stroke-width="1.7" stroke-dasharray="5.6 5.7" stroke-linecap="round"/><circle cx="322.3" cy="894.1" r="4.6" fill="none" stroke="#1e1e1e" stroke-width="1.6"/><circle cx="322.3" cy="906" r="4.6" fill="none" stroke="#1e1e1e" stroke-width="1.6"/><rect x="379.2" y="941.8" width="37.9" height="18.5" fill="none" stroke="#1e1e1e" stroke-width="1.55"/><path d="M398.1,960.3 L398.1,980.8 M398.1,941.8 L398.1,920.3 M379.2,980.8 L417.1,980.8 M379.2,920.3 L417.1,920.3" fill="none" stroke="#1e1e1e" stroke-width="1.7" stroke-dasharray="5.6 5.7" stroke-linecap="round"/><circle cx="398.1" cy="894.8" r="4.6" fill="none" stroke="#1e1e1e" stroke-width="1.6"/><circle cx="398.1" cy="912.1" r="4.6" fill="none" stroke="#1e1e1e" stroke-width="1.6"/><rect x="455" y="948" width="37.9" height="16.5" fill="none" stroke="#1e1e1e" stroke-width="1.55"/><path d="M474,964.5 L474,986.3 M474,948 L474,927 M455,986.3 L493,986.3 M455,927 L493,927" fill="none" stroke="#1e1e1e" stroke-width="1.7" stroke-dasharray="5.6 5.7" stroke-linecap="round"/><circle cx="474" cy="901.5" r="4.6" fill="none" stroke="#1e1e1e" stroke-width="1.6"/><circle cx="474" cy="918.3" r="4.6" fill="none" stroke="#1e1e1e" stroke-width="1.6"/><rect x="552.5" y="842.4" width="37.9" height="87.1" fill="none" stroke="#1e1e1e" stroke-width="1.55"/><path d="M571.5,929.5 L571.5,956.7 M571.5,842.4 L571.5,772.6 M552.5,956.7 L590.5,956.7 M552.5,772.6 L590.5,772.6" fill="none" stroke="#1e1e1e" stroke-width="1.7" stroke-dasharray="5.6 5.7" stroke-linecap="round"/><rect x="628.4" y="893" width="37.9" height="50.9" fill="none" stroke="#1e1e1e" stroke-width="1.55"/><path d="M647.3,943.9 L647.3,966.8 M647.3,893 L647.3,831.5 M628.4,966.8 L666.3,966.8 M628.4,831.5 L666.3,831.5" fill="none" stroke="#1e1e1e" stroke-width="1.7" stroke-dasharray="5.6 5.7" stroke-linecap="round"/><circle cx="647.3" cy="780.7" r="4.6" fill="none" stroke="#1e1e1e" stroke-width="1.6"/><circle cx="647.3" cy="796.6" r="4.6" fill="none" stroke="#1e1e1e" stroke-width="1.6"/><circle cx="647.3" cy="815.2" r="4.6" fill="none" stroke="#1e1e1e" stroke-width="1.6"/><rect x="704.2" y="923.1" width="37.9" height="20.3" fill="none" stroke="#1e1e1e" stroke-width="1.55"/><path d="M723.2,943.4 L723.2,967.1 M723.2,923.1 L723.2,902.6 M704.2,967.1 L742.1,967.1 M704.2,902.6 L742.1,902.6" fill="none" stroke="#1e1e1e" stroke-width="1.7" stroke-dasharray="5.6 5.7" stroke-linecap="round"/><circle cx="723.2" cy="892.2" r="4.6" fill="none" stroke="#1e1e1e" stroke-width="1.6"/><rect x="780.1" y="923.1" width="37.9" height="20.3" fill="none" stroke="#1e1e1e" stroke-width="1.55"/><path d="M799,943.4 L799,964.7 M799,923.1 L799,902.6 M780.1,964.7 L818,964.7 M780.1,902.6 L818,902.6" fill="none" stroke="#1e1e1e" stroke-width="1.7" stroke-dasharray="5.6 5.7" stroke-linecap="round"/><circle cx="799" cy="891.7" r="4.6" fill="none" stroke="#1e1e1e" stroke-width="1.6"/><rect x="855.9" y="923.6" width="37.9" height="21" fill="none" stroke="#1e1e1e" stroke-width="1.55"/><path d="M874.9,944.6 L874.9,975 M874.9,923.6 L874.9,897.9 M855.9,975 L893.8,975 M855.9,897.9 L893.8,897.9" fill="none" stroke="#1e1e1e" stroke-width="1.7" stroke-dasharray="5.6 5.7" stroke-linecap="round"/><rect x="125.4" y="0.6" width="394.1" height="27.1" fill="none" stroke="#1e1e1e" stroke-width="1.5"/><rect x="125.4" y="27.7" width="394.1" height="243.4" fill="none" stroke="#1e1e1e" stroke-width="1.5"/><rect x="125.4" y="271.1" width="394.1" height="243.4" fill="none" stroke="#1e1e1e" stroke-width="1.5"/><rect x="125.4" y="514.5" width="394.1" height="243.4" fill="none" stroke="#1e1e1e" stroke-width="1.5"/><rect x="125.4" y="757.9" width="394.1" height="243.2" fill="none" stroke="#1e1e1e" stroke-width="1.5"/><rect x="526" y="0.6" width="394.2" height="27.1" fill="none" stroke="#1e1e1e" stroke-width="1.5"/><rect x="526" y="27.7" width="394.2" height="243.4" fill="none" stroke="#1e1e1e" stroke-width="1.5"/><rect x="526" y="271.1" width="394.2" height="243.4" fill="none" stroke="#1e1e1e" stroke-width="1.5"/><rect x="526" y="514.5" width="394.2" height="243.4" fill="none" stroke="#1e1e1e" stroke-width="1.5"/><rect x="526" y="757.9" width="394.2" height="243.2" fill="none" stroke="#1e1e1e" stroke-width="1.5"/><rect x="97.97" y="27.7" width="27.43" height="243.4" fill="none" stroke="#1e1e1e" stroke-width="1.5"/><rect x="97.97" y="271.1" width="27.43" height="243.4" fill="none" stroke="#1e1e1e" stroke-width="1.5"/><rect x="97.97" y="514.5" width="27.43" height="243.4" fill="none" stroke="#1e1e1e" stroke-width="1.5"/><rect x="97.97" y="757.9" width="27.43" height="243.2" fill="none" stroke="#1e1e1e" stroke-width="1.5"/><path d="M87,250.4 H98 M920.2,250.4 H931.5" stroke="#1e1e1e" stroke-width="1.4"/><path d="M87,203.6 H98 M920.2,203.6 H931.5" stroke="#1e1e1e" stroke-width="1.4"/><path d="M87,156.7 H98 M920.2,156.7 H931.5" stroke="#1e1e1e" stroke-width="1.4"/><path d="M87,109.8 H98 M920.2,109.8 H931.5" stroke="#1e1e1e" stroke-width="1.4"/><path d="M87,63 H98 M920.2,63 H931.5" stroke="#1e1e1e" stroke-width="1.4"/><path d="M87,493.8 H98 M920.2,493.8 H931.5" stroke="#1e1e1e" stroke-width="1.4"/><path d="M87,446.9 H98 M920.2,446.9 H931.5" stroke="#1e1e1e" stroke-width="1.4"/><path d="M87,400.1 H98 M920.2,400.1 H931.5" stroke="#1e1e1e" stroke-width="1.4"/><path d="M87,353.2 H98 M920.2,353.2 H931.5" stroke="#1e1e1e" stroke-width="1.4"/><path d="M87,306.4 H98 M920.2,306.4 H931.5" stroke="#1e1e1e" stroke-width="1.4"/><path d="M87,737.1 H98 M920.2,737.1 H931.5" stroke="#1e1e1e" stroke-width="1.4"/><path d="M87,690.2 H98 M920.2,690.2 H931.5" stroke="#1e1e1e" stroke-width="1.4"/><path d="M87,643.4 H98 M920.2,643.4 H931.5" stroke="#1e1e1e" stroke-width="1.4"/><path d="M87,596.5 H98 M920.2,596.5 H931.5" stroke="#1e1e1e" stroke-width="1.4"/><path d="M87,549.7 H98 M920.2,549.7 H931.5" stroke="#1e1e1e" stroke-width="1.4"/><path d="M87,980.4 H98 M920.2,980.4 H931.5" stroke="#1e1e1e" stroke-width="1.4"/><path d="M87,933.6 H98 M920.2,933.6 H931.5" stroke="#1e1e1e" stroke-width="1.4"/><path d="M87,886.7 H98 M920.2,886.7 H931.5" stroke="#1e1e1e" stroke-width="1.4"/><path d="M87,839.9 H98 M920.2,839.9 H931.5" stroke="#1e1e1e" stroke-width="1.4"/><path d="M87,793 H98 M920.2,793 H931.5" stroke="#1e1e1e" stroke-width="1.4"/><text x="322.3" y="22.4" font-size="22.9" text-anchor="middle">Low-dimensional</text><text x="723.1" y="22.4" font-size="22.9" text-anchor="middle">High-dimensional</text><text transform="translate(119.8,150.4) rotate(-90)" font-size="23" text-anchor="middle">No</text><text transform="translate(119.8,393.8) rotate(-90)" font-size="23" text-anchor="middle">PO</text><text transform="translate(119.8,637.2) rotate(-90)" font-size="23" text-anchor="middle">Non-PO</text><text transform="translate(119.8,880.5) rotate(-90)" font-size="23" text-anchor="middle">Combined</text><text x="74.7" y="255.7" font-size="18" text-anchor="end">500</text><text x="74.7" y="208.9" font-size="18" text-anchor="end">600</text><text x="74.7" y="162" font-size="18" text-anchor="end">700</text><text x="74.7" y="115.1" font-size="18" text-anchor="end">800</text><text x="74.7" y="68.3" font-size="18" text-anchor="end">900</text><text x="74.7" y="742.4" font-size="18" text-anchor="end">500</text><text x="74.7" y="695.5" font-size="18" text-anchor="end">600</text><text x="74.7" y="648.7" font-size="18" text-anchor="end">700</text><text x="74.7" y="601.8" font-size="18" text-anchor="end">800</text><text x="74.7" y="555" font-size="18" text-anchor="end">900</text><text x="942" y="499.1" font-size="18">500</text><text x="942" y="452.2" font-size="18">600</text><text x="942" y="405.4" font-size="18">700</text><text x="942" y="358.5" font-size="18">800</text><text x="942" y="311.7" font-size="18">900</text><text x="942" y="985.7" font-size="18">500</text><text x="942" y="938.9" font-size="18">600</text><text x="942" y="892" font-size="18">700</text><text x="942" y="845.2" font-size="18">800</text><text x="942" y="798.3" font-size="18">900</text><text transform="translate(16.6,677) rotate(-90)" font-size="22.6">Kullback-Leibler Divergence KL<tspan font-size="15" dy="4.5">2</tspan></text><text transform="translate(170.5,1013) rotate(-45)" font-size="18" text-anchor="end"><tspan x="-6.5" y="-6">Ordinal Forest</tspan><tspan x="0" y="15">(equal)</tspan></text><text transform="translate(246.4,1013) rotate(-45)" font-size="18" text-anchor="end"><tspan x="-6.5" y="-6">Ordinal Forest</tspan><tspan x="0" y="15">(proportional)</tspan></text><text transform="translate(322.3,1013) rotate(-45)" font-size="18" text-anchor="end"><tspan x="0" y="4">CForest</tspan></text><text transform="translate(398.1,1013) rotate(-45)" font-size="18" text-anchor="end"><tspan x="0" y="4">OTF(<tspan font-family="Liberation Serif" font-style="italic">α</tspan>)</tspan></text><text transform="translate(474,1013) rotate(-45)" font-size="18" text-anchor="end"><tspan x="0" y="4">OTF(<tspan font-family="Liberation Serif" font-weight="bold" font-style="italic">ϑ</tspan>)</tspan></text><text transform="translate(571.5,1013) rotate(-45)" font-size="18" text-anchor="end"><tspan x="-6.5" y="-6">Ordinal Forest</tspan><tspan x="0" y="15">(equal)</tspan></text><text transform="translate(647.3,1013) rotate(-45)" font-size="18" text-anchor="end"><tspan x="-6.5" y="-6">Ordinal Forest</tspan><tspan x="0" y="15">(proportional)</tspan></text><text transform="translate(723.2,1013) rotate(-45)" font-size="18" text-anchor="end"><tspan x="0" y="4">CForest</tspan></text><text transform="translate(799,1013) rotate(-45)" font-size="18" text-anchor="end"><tspan x="0" y="4">OTF(<tspan font-family="Liberation Serif" font-style="italic">α</tspan>)</tspan></text><text transform="translate(874.9,1013) rotate(-45)" font-size="18" text-anchor="end"><tspan x="0" y="4">OTF(<tspan font-family="Liberation Serif" font-weight="bold" font-style="italic">ϑ</tspan>)</tspan></text></svg></body></html>
